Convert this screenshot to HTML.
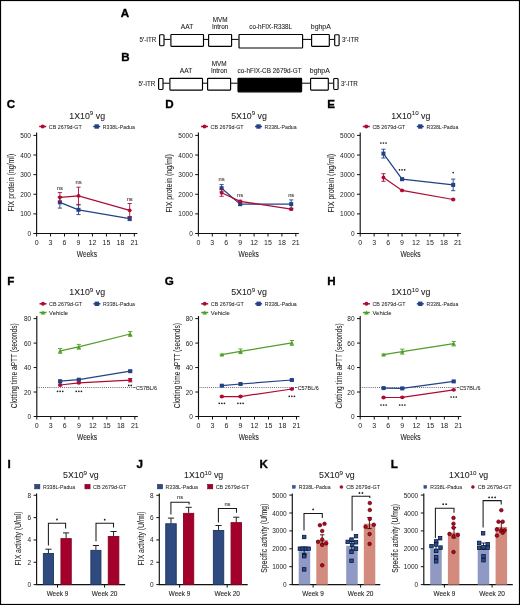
<!DOCTYPE html>
<html><head><meta charset="utf-8"><title>Figure</title>
<style>html,body{margin:0;padding:0;background:#fff;}svg{display:block;will-change:transform;}</style>
</head><body>
<svg width="520" height="605" viewBox="0 0 520 605" font-family='"Liberation Sans", sans-serif'>
<rect x="0" y="0" width="520" height="605" fill="#fff"/>
<text x="120.70" y="16.60" font-size="11.6" font-weight="bold" fill="#000" stroke="#000" stroke-width="0.35">A</text>
<line x1="164.20" y1="39.40" x2="170.40" y2="39.40" stroke="#000" stroke-width="1.0" />
<line x1="203.80" y1="39.40" x2="208.30" y2="39.40" stroke="#000" stroke-width="1.0" />
<line x1="231.80" y1="39.40" x2="238.50" y2="39.40" stroke="#000" stroke-width="1.0" />
<line x1="302.80" y1="39.40" x2="311.20" y2="39.40" stroke="#000" stroke-width="1.0" />
<line x1="329.60" y1="39.40" x2="334.20" y2="39.40" stroke="#000" stroke-width="1.0" />
<rect x="159.60" y="34.70" width="4.40" height="11.00" fill="#fff" stroke="#000" stroke-width="1.15" rx="0.9"/>
<rect x="170.90" y="34.50" width="32.60" height="11.80" fill="#fff" stroke="#000" stroke-width="1.15" rx="0.5"/>
<rect x="208.60" y="34.50" width="23.00" height="11.80" fill="#fff" stroke="#000" stroke-width="1.15" rx="0.5"/>
<rect x="239.00" y="34.50" width="63.60" height="13.50" fill="#fff" stroke="#000" stroke-width="1.15" rx="0.5"/>
<rect x="311.60" y="34.50" width="17.70" height="11.80" fill="#fff" stroke="#000" stroke-width="1.15" rx="0.5"/>
<rect x="334.70" y="34.70" width="4.40" height="11.00" fill="#fff" stroke="#000" stroke-width="1.15" rx="0.9"/>
<text x="156.30" y="42.10" font-size="6.6" text-anchor="end" fill="#222" font-weight="normal" textLength="16.8" lengthAdjust="spacingAndGlyphs" stroke="#222" stroke-width="0.08" >5′-ITR</text>
<text x="342.00" y="42.10" font-size="6.6" text-anchor="start" fill="#222" font-weight="normal" textLength="16.8" lengthAdjust="spacingAndGlyphs" stroke="#222" stroke-width="0.08" >3′-ITR</text>
<text x="187.00" y="29.40" font-size="6.6" text-anchor="middle" fill="#222" font-weight="normal" stroke="#222" stroke-width="0.08" >AAT</text>
<text x="220.10" y="21.70" font-size="6.4" text-anchor="middle" fill="#222" font-weight="normal" stroke="#222" stroke-width="0.08" >MVM</text>
<text x="220.10" y="29.10" font-size="6.4" text-anchor="middle" fill="#222" font-weight="normal" stroke="#222" stroke-width="0.08" >Intron</text>
<text x="270.60" y="29.40" font-size="6.6" text-anchor="middle" fill="#222" font-weight="normal" textLength="42.7" lengthAdjust="spacingAndGlyphs" stroke="#222" stroke-width="0.08" >co-hFIX-R338L</text>
<text x="320.80" y="29.40" font-size="6.6" text-anchor="middle" fill="#222" font-weight="normal" textLength="20.0" lengthAdjust="spacingAndGlyphs" stroke="#222" stroke-width="0.08" >bghpA</text>
<text x="121.30" y="60.60" font-size="11.6" font-weight="bold" fill="#000" stroke="#000" stroke-width="0.35">B</text>
<line x1="163.20" y1="83.20" x2="169.40" y2="83.20" stroke="#000" stroke-width="1.0" />
<line x1="202.80" y1="83.20" x2="207.30" y2="83.20" stroke="#000" stroke-width="1.0" />
<line x1="230.80" y1="83.20" x2="237.50" y2="83.20" stroke="#000" stroke-width="1.0" />
<line x1="301.80" y1="83.20" x2="310.20" y2="83.20" stroke="#000" stroke-width="1.0" />
<line x1="328.60" y1="83.20" x2="333.20" y2="83.20" stroke="#000" stroke-width="1.0" />
<rect x="158.60" y="78.50" width="4.40" height="11.00" fill="#fff" stroke="#000" stroke-width="1.15" rx="0.9"/>
<rect x="169.90" y="78.30" width="32.60" height="11.80" fill="#fff" stroke="#000" stroke-width="1.15" rx="0.5"/>
<rect x="207.60" y="78.30" width="23.00" height="11.80" fill="#fff" stroke="#000" stroke-width="1.15" rx="0.5"/>
<rect x="238.00" y="78.30" width="63.60" height="13.50" fill="#000" stroke="#000" stroke-width="1.15" rx="0.5"/>
<rect x="310.60" y="78.30" width="17.70" height="11.80" fill="#fff" stroke="#000" stroke-width="1.15" rx="0.5"/>
<rect x="333.70" y="78.50" width="4.40" height="11.00" fill="#fff" stroke="#000" stroke-width="1.15" rx="0.9"/>
<text x="155.30" y="85.90" font-size="6.6" text-anchor="end" fill="#222" font-weight="normal" textLength="16.8" lengthAdjust="spacingAndGlyphs" stroke="#222" stroke-width="0.08" >5′-ITR</text>
<text x="341.00" y="85.90" font-size="6.6" text-anchor="start" fill="#222" font-weight="normal" textLength="16.8" lengthAdjust="spacingAndGlyphs" stroke="#222" stroke-width="0.08" >3′-ITR</text>
<text x="186.00" y="73.20" font-size="6.6" text-anchor="middle" fill="#222" font-weight="normal" stroke="#222" stroke-width="0.08" >AAT</text>
<text x="219.10" y="65.50" font-size="6.4" text-anchor="middle" fill="#222" font-weight="normal" stroke="#222" stroke-width="0.08" >MVM</text>
<text x="219.10" y="72.90" font-size="6.4" text-anchor="middle" fill="#222" font-weight="normal" stroke="#222" stroke-width="0.08" >Intron</text>
<text x="269.60" y="73.20" font-size="6.6" text-anchor="middle" fill="#222" font-weight="normal" textLength="64.0" lengthAdjust="spacingAndGlyphs" stroke="#222" stroke-width="0.08" >co-hFIX-CB 2679d-GT</text>
<text x="319.80" y="73.20" font-size="6.6" text-anchor="middle" fill="#222" font-weight="normal" textLength="20.0" lengthAdjust="spacingAndGlyphs" stroke="#222" stroke-width="0.08" >bghpA</text>
<text x="6.70" y="107.80" font-size="11.6" font-weight="bold" fill="#000" stroke="#000" stroke-width="0.35">C</text>
<text x="165.30" y="107.80" font-size="11.6" font-weight="bold" fill="#000" stroke="#000" stroke-width="0.35">D</text>
<text x="327.30" y="107.80" font-size="11.6" font-weight="bold" fill="#000" stroke="#000" stroke-width="0.35">E</text>
<line x1="36.60" y1="132.50" x2="36.60" y2="234.00" stroke="#111" stroke-width="1.15" />
<line x1="36.10" y1="233.50" x2="137.36" y2="233.50" stroke="#111" stroke-width="1.15" />
<line x1="33.40" y1="233.50" x2="36.60" y2="233.50" stroke="#111" stroke-width="1.0" />
<text x="31.00" y="236.00" font-size="7.0" text-anchor="end" fill="#1a1a1a" font-weight="normal" textLength="3.62" lengthAdjust="spacingAndGlyphs" >0</text>
<line x1="33.40" y1="213.88" x2="36.60" y2="213.88" stroke="#111" stroke-width="1.0" />
<text x="31.00" y="216.38" font-size="7.0" text-anchor="end" fill="#1a1a1a" font-weight="normal" textLength="10.86" lengthAdjust="spacingAndGlyphs" >100</text>
<line x1="33.40" y1="194.26" x2="36.60" y2="194.26" stroke="#111" stroke-width="1.0" />
<text x="31.00" y="196.76" font-size="7.0" text-anchor="end" fill="#1a1a1a" font-weight="normal" textLength="10.86" lengthAdjust="spacingAndGlyphs" >200</text>
<line x1="33.40" y1="174.64" x2="36.60" y2="174.64" stroke="#111" stroke-width="1.0" />
<text x="31.00" y="177.14" font-size="7.0" text-anchor="end" fill="#1a1a1a" font-weight="normal" textLength="10.86" lengthAdjust="spacingAndGlyphs" >300</text>
<line x1="33.40" y1="155.02" x2="36.60" y2="155.02" stroke="#111" stroke-width="1.0" />
<text x="31.00" y="157.52" font-size="7.0" text-anchor="end" fill="#1a1a1a" font-weight="normal" textLength="10.86" lengthAdjust="spacingAndGlyphs" >400</text>
<line x1="33.40" y1="135.40" x2="36.60" y2="135.40" stroke="#111" stroke-width="1.0" />
<text x="31.00" y="137.90" font-size="7.0" text-anchor="end" fill="#1a1a1a" font-weight="normal" textLength="10.86" lengthAdjust="spacingAndGlyphs" >500</text>
<line x1="36.60" y1="233.50" x2="36.60" y2="236.50" stroke="#111" stroke-width="1.0" />
<text x="36.60" y="245.40" font-size="7.0" text-anchor="middle" fill="#1a1a1a" font-weight="normal" >0</text>
<line x1="50.56" y1="233.50" x2="50.56" y2="236.50" stroke="#111" stroke-width="1.0" />
<text x="50.56" y="245.40" font-size="7.0" text-anchor="middle" fill="#1a1a1a" font-weight="normal" >3</text>
<line x1="64.53" y1="233.50" x2="64.53" y2="236.50" stroke="#111" stroke-width="1.0" />
<text x="64.53" y="245.40" font-size="7.0" text-anchor="middle" fill="#1a1a1a" font-weight="normal" >6</text>
<line x1="78.50" y1="233.50" x2="78.50" y2="236.50" stroke="#111" stroke-width="1.0" />
<text x="78.50" y="245.40" font-size="7.0" text-anchor="middle" fill="#1a1a1a" font-weight="normal" >9</text>
<line x1="92.46" y1="233.50" x2="92.46" y2="236.50" stroke="#111" stroke-width="1.0" />
<text x="92.46" y="245.40" font-size="7.0" text-anchor="middle" fill="#1a1a1a" font-weight="normal" >12</text>
<line x1="106.43" y1="233.50" x2="106.43" y2="236.50" stroke="#111" stroke-width="1.0" />
<text x="106.43" y="245.40" font-size="7.0" text-anchor="middle" fill="#1a1a1a" font-weight="normal" >15</text>
<line x1="120.39" y1="233.50" x2="120.39" y2="236.50" stroke="#111" stroke-width="1.0" />
<text x="120.39" y="245.40" font-size="7.0" text-anchor="middle" fill="#1a1a1a" font-weight="normal" >18</text>
<line x1="134.36" y1="233.50" x2="134.36" y2="236.50" stroke="#111" stroke-width="1.0" />
<text x="134.36" y="245.40" font-size="7.0" text-anchor="middle" fill="#1a1a1a" font-weight="normal" >21</text>
<text x="86.90" y="257.10" font-size="8.7" text-anchor="middle" fill="#222" font-weight="normal" textLength="20.2" lengthAdjust="spacingAndGlyphs" stroke="#222" stroke-width="0.08" >Weeks</text>
<line x1="39.20" y1="126.50" x2="46.20" y2="126.50" stroke="#AC0C33" stroke-width="1.5" />
<circle cx="42.70" cy="126.50" r="1.95" fill="#AC0C33"/>
<text x="48.80" y="128.55" font-size="5.9" text-anchor="start" fill="#222" font-weight="normal" textLength="33.0" lengthAdjust="spacingAndGlyphs" stroke="#222" stroke-width="0.04" >CB 2679d-GT</text>
<line x1="93.20" y1="126.50" x2="100.20" y2="126.50" stroke="#224287" stroke-width="1.5" />
<rect x="94.50" y="124.30" width="4.40" height="4.40" fill="#224287" stroke="none" stroke-width="0" />
<text x="102.80" y="128.55" font-size="5.9" text-anchor="start" fill="#222" font-weight="normal" textLength="32.0" lengthAdjust="spacingAndGlyphs" stroke="#222" stroke-width="0.04" >R338L-Padua</text>
<line x1="198.40" y1="132.50" x2="198.40" y2="234.00" stroke="#111" stroke-width="1.15" />
<line x1="197.90" y1="233.50" x2="298.84" y2="233.50" stroke="#111" stroke-width="1.15" />
<line x1="195.20" y1="233.50" x2="198.40" y2="233.50" stroke="#111" stroke-width="1.0" />
<text x="192.80" y="236.00" font-size="7.0" text-anchor="end" fill="#1a1a1a" font-weight="normal" textLength="3.62" lengthAdjust="spacingAndGlyphs" >0</text>
<line x1="195.20" y1="213.88" x2="198.40" y2="213.88" stroke="#111" stroke-width="1.0" />
<text x="192.80" y="216.38" font-size="7.0" text-anchor="end" fill="#1a1a1a" font-weight="normal" textLength="14.48" lengthAdjust="spacingAndGlyphs" >1000</text>
<line x1="195.20" y1="194.26" x2="198.40" y2="194.26" stroke="#111" stroke-width="1.0" />
<text x="192.80" y="196.76" font-size="7.0" text-anchor="end" fill="#1a1a1a" font-weight="normal" textLength="14.48" lengthAdjust="spacingAndGlyphs" >2000</text>
<line x1="195.20" y1="174.64" x2="198.40" y2="174.64" stroke="#111" stroke-width="1.0" />
<text x="192.80" y="177.14" font-size="7.0" text-anchor="end" fill="#1a1a1a" font-weight="normal" textLength="14.48" lengthAdjust="spacingAndGlyphs" >3000</text>
<line x1="195.20" y1="155.02" x2="198.40" y2="155.02" stroke="#111" stroke-width="1.0" />
<text x="192.80" y="157.52" font-size="7.0" text-anchor="end" fill="#1a1a1a" font-weight="normal" textLength="14.48" lengthAdjust="spacingAndGlyphs" >4000</text>
<line x1="195.20" y1="135.40" x2="198.40" y2="135.40" stroke="#111" stroke-width="1.0" />
<text x="192.80" y="137.90" font-size="7.0" text-anchor="end" fill="#1a1a1a" font-weight="normal" textLength="14.48" lengthAdjust="spacingAndGlyphs" >5000</text>
<line x1="198.40" y1="233.50" x2="198.40" y2="236.50" stroke="#111" stroke-width="1.0" />
<text x="198.40" y="245.40" font-size="7.0" text-anchor="middle" fill="#1a1a1a" font-weight="normal" >0</text>
<line x1="212.32" y1="233.50" x2="212.32" y2="236.50" stroke="#111" stroke-width="1.0" />
<text x="212.32" y="245.40" font-size="7.0" text-anchor="middle" fill="#1a1a1a" font-weight="normal" >3</text>
<line x1="226.24" y1="233.50" x2="226.24" y2="236.50" stroke="#111" stroke-width="1.0" />
<text x="226.24" y="245.40" font-size="7.0" text-anchor="middle" fill="#1a1a1a" font-weight="normal" >6</text>
<line x1="240.16" y1="233.50" x2="240.16" y2="236.50" stroke="#111" stroke-width="1.0" />
<text x="240.16" y="245.40" font-size="7.0" text-anchor="middle" fill="#1a1a1a" font-weight="normal" >9</text>
<line x1="254.08" y1="233.50" x2="254.08" y2="236.50" stroke="#111" stroke-width="1.0" />
<text x="254.08" y="245.40" font-size="7.0" text-anchor="middle" fill="#1a1a1a" font-weight="normal" >12</text>
<line x1="268.00" y1="233.50" x2="268.00" y2="236.50" stroke="#111" stroke-width="1.0" />
<text x="268.00" y="245.40" font-size="7.0" text-anchor="middle" fill="#1a1a1a" font-weight="normal" >15</text>
<line x1="281.92" y1="233.50" x2="281.92" y2="236.50" stroke="#111" stroke-width="1.0" />
<text x="281.92" y="245.40" font-size="7.0" text-anchor="middle" fill="#1a1a1a" font-weight="normal" >18</text>
<line x1="295.84" y1="233.50" x2="295.84" y2="236.50" stroke="#111" stroke-width="1.0" />
<text x="295.84" y="245.40" font-size="7.0" text-anchor="middle" fill="#1a1a1a" font-weight="normal" >21</text>
<text x="248.70" y="257.10" font-size="8.7" text-anchor="middle" fill="#222" font-weight="normal" textLength="20.2" lengthAdjust="spacingAndGlyphs" stroke="#222" stroke-width="0.08" >Weeks</text>
<line x1="201.00" y1="126.50" x2="208.00" y2="126.50" stroke="#AC0C33" stroke-width="1.5" />
<circle cx="204.50" cy="126.50" r="1.95" fill="#AC0C33"/>
<text x="210.60" y="128.55" font-size="5.9" text-anchor="start" fill="#222" font-weight="normal" textLength="33.0" lengthAdjust="spacingAndGlyphs" stroke="#222" stroke-width="0.04" >CB 2679d-GT</text>
<line x1="255.00" y1="126.50" x2="262.00" y2="126.50" stroke="#224287" stroke-width="1.5" />
<rect x="256.30" y="124.30" width="4.40" height="4.40" fill="#224287" stroke="none" stroke-width="0" />
<text x="264.60" y="128.55" font-size="5.9" text-anchor="start" fill="#222" font-weight="normal" textLength="32.0" lengthAdjust="spacingAndGlyphs" stroke="#222" stroke-width="0.04" >R338L-Padua</text>
<line x1="360.20" y1="132.50" x2="360.20" y2="234.00" stroke="#111" stroke-width="1.15" />
<line x1="359.70" y1="233.50" x2="460.85" y2="233.50" stroke="#111" stroke-width="1.15" />
<line x1="357.00" y1="233.50" x2="360.20" y2="233.50" stroke="#111" stroke-width="1.0" />
<text x="354.60" y="236.00" font-size="7.0" text-anchor="end" fill="#1a1a1a" font-weight="normal" textLength="3.62" lengthAdjust="spacingAndGlyphs" >0</text>
<line x1="357.00" y1="213.88" x2="360.20" y2="213.88" stroke="#111" stroke-width="1.0" />
<text x="354.60" y="216.38" font-size="7.0" text-anchor="end" fill="#1a1a1a" font-weight="normal" textLength="14.48" lengthAdjust="spacingAndGlyphs" >1000</text>
<line x1="357.00" y1="194.26" x2="360.20" y2="194.26" stroke="#111" stroke-width="1.0" />
<text x="354.60" y="196.76" font-size="7.0" text-anchor="end" fill="#1a1a1a" font-weight="normal" textLength="14.48" lengthAdjust="spacingAndGlyphs" >2000</text>
<line x1="357.00" y1="174.64" x2="360.20" y2="174.64" stroke="#111" stroke-width="1.0" />
<text x="354.60" y="177.14" font-size="7.0" text-anchor="end" fill="#1a1a1a" font-weight="normal" textLength="14.48" lengthAdjust="spacingAndGlyphs" >3000</text>
<line x1="357.00" y1="155.02" x2="360.20" y2="155.02" stroke="#111" stroke-width="1.0" />
<text x="354.60" y="157.52" font-size="7.0" text-anchor="end" fill="#1a1a1a" font-weight="normal" textLength="14.48" lengthAdjust="spacingAndGlyphs" >4000</text>
<line x1="357.00" y1="135.40" x2="360.20" y2="135.40" stroke="#111" stroke-width="1.0" />
<text x="354.60" y="137.90" font-size="7.0" text-anchor="end" fill="#1a1a1a" font-weight="normal" textLength="14.48" lengthAdjust="spacingAndGlyphs" >5000</text>
<line x1="360.20" y1="233.50" x2="360.20" y2="236.50" stroke="#111" stroke-width="1.0" />
<text x="360.20" y="245.40" font-size="7.0" text-anchor="middle" fill="#1a1a1a" font-weight="normal" >0</text>
<line x1="374.15" y1="233.50" x2="374.15" y2="236.50" stroke="#111" stroke-width="1.0" />
<text x="374.15" y="245.40" font-size="7.0" text-anchor="middle" fill="#1a1a1a" font-weight="normal" >3</text>
<line x1="388.10" y1="233.50" x2="388.10" y2="236.50" stroke="#111" stroke-width="1.0" />
<text x="388.10" y="245.40" font-size="7.0" text-anchor="middle" fill="#1a1a1a" font-weight="normal" >6</text>
<line x1="402.05" y1="233.50" x2="402.05" y2="236.50" stroke="#111" stroke-width="1.0" />
<text x="402.05" y="245.40" font-size="7.0" text-anchor="middle" fill="#1a1a1a" font-weight="normal" >9</text>
<line x1="416.00" y1="233.50" x2="416.00" y2="236.50" stroke="#111" stroke-width="1.0" />
<text x="416.00" y="245.40" font-size="7.0" text-anchor="middle" fill="#1a1a1a" font-weight="normal" >12</text>
<line x1="429.95" y1="233.50" x2="429.95" y2="236.50" stroke="#111" stroke-width="1.0" />
<text x="429.95" y="245.40" font-size="7.0" text-anchor="middle" fill="#1a1a1a" font-weight="normal" >15</text>
<line x1="443.90" y1="233.50" x2="443.90" y2="236.50" stroke="#111" stroke-width="1.0" />
<text x="443.90" y="245.40" font-size="7.0" text-anchor="middle" fill="#1a1a1a" font-weight="normal" >18</text>
<line x1="457.85" y1="233.50" x2="457.85" y2="236.50" stroke="#111" stroke-width="1.0" />
<text x="457.85" y="245.40" font-size="7.0" text-anchor="middle" fill="#1a1a1a" font-weight="normal" >21</text>
<text x="410.50" y="257.10" font-size="8.7" text-anchor="middle" fill="#222" font-weight="normal" textLength="20.2" lengthAdjust="spacingAndGlyphs" stroke="#222" stroke-width="0.08" >Weeks</text>
<line x1="362.80" y1="126.50" x2="369.80" y2="126.50" stroke="#AC0C33" stroke-width="1.5" />
<circle cx="366.30" cy="126.50" r="1.95" fill="#AC0C33"/>
<text x="372.40" y="128.55" font-size="5.9" text-anchor="start" fill="#222" font-weight="normal" textLength="33.0" lengthAdjust="spacingAndGlyphs" stroke="#222" stroke-width="0.04" >CB 2679d-GT</text>
<line x1="416.80" y1="126.50" x2="423.80" y2="126.50" stroke="#224287" stroke-width="1.5" />
<rect x="418.10" y="124.30" width="4.40" height="4.40" fill="#224287" stroke="none" stroke-width="0" />
<text x="426.40" y="128.55" font-size="5.9" text-anchor="start" fill="#222" font-weight="normal" textLength="32.0" lengthAdjust="spacingAndGlyphs" stroke="#222" stroke-width="0.04" >R338L-Padua</text>
<text transform="translate(14.20,182.70) rotate(-90)" x="0" y="0" font-size="8.2" text-anchor="middle" fill="#222" stroke="#222" stroke-width="0.06" textLength="57.8" lengthAdjust="spacingAndGlyphs">FIX protein (ng/ml)</text>
<text transform="translate(172.40,183.35) rotate(-90)" x="0" y="0" font-size="8.2" text-anchor="middle" fill="#222" stroke="#222" stroke-width="0.06" textLength="58.5" lengthAdjust="spacingAndGlyphs">FIX protein (ng/ml)</text>
<text transform="translate(334.00,183.25) rotate(-90)" x="0" y="0" font-size="8.2" text-anchor="middle" fill="#222" stroke="#222" stroke-width="0.06" textLength="58.7" lengthAdjust="spacingAndGlyphs">FIX protein (ng/ml)</text>
<text x="87.20" y="118.70" font-size="8.8" text-anchor="middle" fill="#222" stroke="#222" stroke-width="0.07">1X10<tspan font-size="6.2" dy="-3.7">9</tspan><tspan dy="3.7"> vg</tspan></text>
<text x="249.00" y="118.70" font-size="8.8" text-anchor="middle" fill="#222" stroke="#222" stroke-width="0.07">5X10<tspan font-size="6.2" dy="-3.7">9</tspan><tspan dy="3.7"> vg</tspan></text>
<text x="410.80" y="118.70" font-size="8.8" text-anchor="middle" fill="#222" stroke="#222" stroke-width="0.07">1X10<tspan font-size="6.2" dy="-3.7">10</tspan><tspan dy="3.7"> vg</tspan></text>
<polyline points="59.88,202.30 78.50,209.80 129.70,218.60" fill="none" stroke="#224287" stroke-width="1.25"/>
<line x1="59.88" y1="196.50" x2="59.88" y2="208.10" stroke="#224287" stroke-width="0.9" />
<line x1="57.77" y1="196.50" x2="61.98" y2="196.50" stroke="#224287" stroke-width="0.9" />
<line x1="57.77" y1="208.10" x2="61.98" y2="208.10" stroke="#224287" stroke-width="0.9" />
<rect x="57.88" y="200.30" width="4.00" height="4.00" fill="#224287" stroke="none" stroke-width="0" />
<line x1="78.50" y1="205.00" x2="78.50" y2="214.60" stroke="#224287" stroke-width="0.9" />
<line x1="76.40" y1="205.00" x2="80.59" y2="205.00" stroke="#224287" stroke-width="0.9" />
<line x1="76.40" y1="214.60" x2="80.59" y2="214.60" stroke="#224287" stroke-width="0.9" />
<rect x="76.50" y="207.80" width="4.00" height="4.00" fill="#224287" stroke="none" stroke-width="0" />
<line x1="129.70" y1="216.60" x2="129.70" y2="220.60" stroke="#224287" stroke-width="0.9" />
<line x1="127.60" y1="216.60" x2="131.80" y2="216.60" stroke="#224287" stroke-width="0.9" />
<line x1="127.60" y1="220.60" x2="131.80" y2="220.60" stroke="#224287" stroke-width="0.9" />
<rect x="127.70" y="216.60" width="4.00" height="4.00" fill="#224287" stroke="none" stroke-width="0" />
<polyline points="59.88,197.30 78.50,195.80 129.70,210.30" fill="none" stroke="#AC0C33" stroke-width="1.25"/>
<line x1="59.88" y1="192.60" x2="59.88" y2="202.00" stroke="#AC0C33" stroke-width="0.9" />
<line x1="57.77" y1="192.60" x2="61.98" y2="192.60" stroke="#AC0C33" stroke-width="0.9" />
<line x1="57.77" y1="202.00" x2="61.98" y2="202.00" stroke="#AC0C33" stroke-width="0.9" />
<circle cx="59.88" cy="197.30" r="1.9" fill="#AC0C33"/>
<line x1="78.50" y1="187.20" x2="78.50" y2="204.40" stroke="#AC0C33" stroke-width="0.9" />
<line x1="76.40" y1="187.20" x2="80.59" y2="187.20" stroke="#AC0C33" stroke-width="0.9" />
<line x1="76.40" y1="204.40" x2="80.59" y2="204.40" stroke="#AC0C33" stroke-width="0.9" />
<circle cx="78.50" cy="195.80" r="1.9" fill="#AC0C33"/>
<line x1="129.70" y1="203.50" x2="129.70" y2="217.10" stroke="#AC0C33" stroke-width="0.9" />
<line x1="127.60" y1="203.50" x2="131.80" y2="203.50" stroke="#AC0C33" stroke-width="0.9" />
<line x1="127.60" y1="217.10" x2="131.80" y2="217.10" stroke="#AC0C33" stroke-width="0.9" />
<circle cx="129.70" cy="210.30" r="1.9" fill="#AC0C33"/>
<text x="59.88" y="189.80" font-size="5.8" text-anchor="middle" fill="#333" font-weight="normal" stroke="#333" stroke-width="0.08" >ns</text>
<text x="78.50" y="184.40" font-size="5.8" text-anchor="middle" fill="#333" font-weight="normal" stroke="#333" stroke-width="0.08" >ns</text>
<text x="129.70" y="201.10" font-size="5.8" text-anchor="middle" fill="#333" font-weight="normal" stroke="#333" stroke-width="0.08" >ns</text>
<polyline points="221.60,188.20 240.16,204.20 291.20,204.10" fill="none" stroke="#224287" stroke-width="1.25"/>
<line x1="221.60" y1="184.60" x2="221.60" y2="191.80" stroke="#224287" stroke-width="0.9" />
<line x1="219.50" y1="184.60" x2="223.70" y2="184.60" stroke="#224287" stroke-width="0.9" />
<line x1="219.50" y1="191.80" x2="223.70" y2="191.80" stroke="#224287" stroke-width="0.9" />
<rect x="219.60" y="186.20" width="4.00" height="4.00" fill="#224287" stroke="none" stroke-width="0" />
<line x1="240.16" y1="203.00" x2="240.16" y2="205.40" stroke="#224287" stroke-width="0.9" />
<line x1="238.06" y1="203.00" x2="242.26" y2="203.00" stroke="#224287" stroke-width="0.9" />
<line x1="238.06" y1="205.40" x2="242.26" y2="205.40" stroke="#224287" stroke-width="0.9" />
<rect x="238.16" y="202.20" width="4.00" height="4.00" fill="#224287" stroke="none" stroke-width="0" />
<line x1="291.20" y1="199.90" x2="291.20" y2="208.30" stroke="#224287" stroke-width="0.9" />
<line x1="289.10" y1="199.90" x2="293.30" y2="199.90" stroke="#224287" stroke-width="0.9" />
<line x1="289.10" y1="208.30" x2="293.30" y2="208.30" stroke="#224287" stroke-width="0.9" />
<rect x="289.20" y="202.10" width="4.00" height="4.00" fill="#224287" stroke="none" stroke-width="0" />
<polyline points="221.60,192.80 240.16,201.30 291.20,209.20" fill="none" stroke="#AC0C33" stroke-width="1.25"/>
<line x1="221.60" y1="189.30" x2="221.60" y2="196.30" stroke="#AC0C33" stroke-width="0.9" />
<line x1="219.50" y1="189.30" x2="223.70" y2="189.30" stroke="#AC0C33" stroke-width="0.9" />
<line x1="219.50" y1="196.30" x2="223.70" y2="196.30" stroke="#AC0C33" stroke-width="0.9" />
<circle cx="221.60" cy="192.80" r="1.9" fill="#AC0C33"/>
<line x1="240.16" y1="200.30" x2="240.16" y2="202.30" stroke="#AC0C33" stroke-width="0.9" />
<line x1="238.06" y1="200.30" x2="242.26" y2="200.30" stroke="#AC0C33" stroke-width="0.9" />
<line x1="238.06" y1="202.30" x2="242.26" y2="202.30" stroke="#AC0C33" stroke-width="0.9" />
<circle cx="240.16" cy="201.30" r="1.9" fill="#AC0C33"/>
<line x1="291.20" y1="208.40" x2="291.20" y2="210.00" stroke="#AC0C33" stroke-width="0.9" />
<line x1="289.10" y1="208.40" x2="293.30" y2="208.40" stroke="#AC0C33" stroke-width="0.9" />
<line x1="289.10" y1="210.00" x2="293.30" y2="210.00" stroke="#AC0C33" stroke-width="0.9" />
<circle cx="291.20" cy="209.20" r="1.9" fill="#AC0C33"/>
<text x="221.60" y="181.30" font-size="5.8" text-anchor="middle" fill="#333" font-weight="normal" stroke="#333" stroke-width="0.08" >ns</text>
<text x="240.16" y="196.70" font-size="5.8" text-anchor="middle" fill="#333" font-weight="normal" stroke="#333" stroke-width="0.08" >ns</text>
<text x="291.20" y="197.00" font-size="5.8" text-anchor="middle" fill="#333" font-weight="normal" stroke="#333" stroke-width="0.08" >ns</text>
<polyline points="383.45,177.50 402.05,190.40 453.20,199.50" fill="none" stroke="#AC0C33" stroke-width="1.25"/>
<line x1="383.45" y1="173.70" x2="383.45" y2="181.30" stroke="#AC0C33" stroke-width="0.9" />
<line x1="381.35" y1="173.70" x2="385.55" y2="173.70" stroke="#AC0C33" stroke-width="0.9" />
<line x1="381.35" y1="181.30" x2="385.55" y2="181.30" stroke="#AC0C33" stroke-width="0.9" />
<circle cx="383.45" cy="177.50" r="1.9" fill="#AC0C33"/>
<line x1="402.05" y1="189.90" x2="402.05" y2="190.90" stroke="#AC0C33" stroke-width="0.9" />
<line x1="399.95" y1="189.90" x2="404.15" y2="189.90" stroke="#AC0C33" stroke-width="0.9" />
<line x1="399.95" y1="190.90" x2="404.15" y2="190.90" stroke="#AC0C33" stroke-width="0.9" />
<circle cx="402.05" cy="190.40" r="1.9" fill="#AC0C33"/>
<line x1="453.20" y1="198.90" x2="453.20" y2="200.10" stroke="#AC0C33" stroke-width="0.9" />
<line x1="451.10" y1="198.90" x2="455.30" y2="198.90" stroke="#AC0C33" stroke-width="0.9" />
<line x1="451.10" y1="200.10" x2="455.30" y2="200.10" stroke="#AC0C33" stroke-width="0.9" />
<circle cx="453.20" cy="199.50" r="1.9" fill="#AC0C33"/>
<polyline points="383.45,153.60 402.05,179.20 453.20,184.90" fill="none" stroke="#224287" stroke-width="1.25"/>
<line x1="383.45" y1="149.20" x2="383.45" y2="158.00" stroke="#224287" stroke-width="0.9" />
<line x1="381.35" y1="149.20" x2="385.55" y2="149.20" stroke="#224287" stroke-width="0.9" />
<line x1="381.35" y1="158.00" x2="385.55" y2="158.00" stroke="#224287" stroke-width="0.9" />
<rect x="381.45" y="151.60" width="4.00" height="4.00" fill="#224287" stroke="none" stroke-width="0" />
<line x1="402.05" y1="178.20" x2="402.05" y2="180.20" stroke="#224287" stroke-width="0.9" />
<line x1="399.95" y1="178.20" x2="404.15" y2="178.20" stroke="#224287" stroke-width="0.9" />
<line x1="399.95" y1="180.20" x2="404.15" y2="180.20" stroke="#224287" stroke-width="0.9" />
<rect x="400.05" y="177.20" width="4.00" height="4.00" fill="#224287" stroke="none" stroke-width="0" />
<line x1="453.20" y1="179.10" x2="453.20" y2="190.70" stroke="#224287" stroke-width="0.9" />
<line x1="451.10" y1="179.10" x2="455.30" y2="179.10" stroke="#224287" stroke-width="0.9" />
<line x1="451.10" y1="190.70" x2="455.30" y2="190.70" stroke="#224287" stroke-width="0.9" />
<rect x="451.20" y="182.90" width="4.00" height="4.00" fill="#224287" stroke="none" stroke-width="0" />
<circle cx="380.85" cy="143.00" r="0.85" fill="#1e1e1e"/>
<circle cx="383.45" cy="143.00" r="0.85" fill="#1e1e1e"/>
<circle cx="386.05" cy="143.00" r="0.85" fill="#1e1e1e"/>
<circle cx="399.45" cy="169.80" r="0.85" fill="#1e1e1e"/>
<circle cx="402.05" cy="169.80" r="0.85" fill="#1e1e1e"/>
<circle cx="404.65" cy="169.80" r="0.85" fill="#1e1e1e"/>
<circle cx="453.20" cy="172.60" r="0.85" fill="#1e1e1e"/>
<text x="7.30" y="284.50" font-size="11.6" font-weight="bold" fill="#000" stroke="#000" stroke-width="0.35">F</text>
<text x="164.80" y="284.50" font-size="11.6" font-weight="bold" fill="#000" stroke="#000" stroke-width="0.35">G</text>
<text x="327.20" y="284.50" font-size="11.6" font-weight="bold" fill="#000" stroke="#000" stroke-width="0.35">H</text>
<line x1="36.80" y1="316.00" x2="36.80" y2="417.00" stroke="#111" stroke-width="1.15" />
<line x1="36.30" y1="416.50" x2="137.87" y2="416.50" stroke="#111" stroke-width="1.15" />
<line x1="33.60" y1="416.50" x2="36.80" y2="416.50" stroke="#111" stroke-width="1.0" />
<text x="31.20" y="419.00" font-size="7.0" text-anchor="end" fill="#1a1a1a" font-weight="normal" textLength="3.62" lengthAdjust="spacingAndGlyphs" >0</text>
<line x1="33.60" y1="392.03" x2="36.80" y2="392.03" stroke="#111" stroke-width="1.0" />
<text x="31.20" y="394.53" font-size="7.0" text-anchor="end" fill="#1a1a1a" font-weight="normal" textLength="7.24" lengthAdjust="spacingAndGlyphs" >20</text>
<line x1="33.60" y1="367.56" x2="36.80" y2="367.56" stroke="#111" stroke-width="1.0" />
<text x="31.20" y="370.06" font-size="7.0" text-anchor="end" fill="#1a1a1a" font-weight="normal" textLength="7.24" lengthAdjust="spacingAndGlyphs" >40</text>
<line x1="33.60" y1="343.09" x2="36.80" y2="343.09" stroke="#111" stroke-width="1.0" />
<text x="31.20" y="345.59" font-size="7.0" text-anchor="end" fill="#1a1a1a" font-weight="normal" textLength="7.24" lengthAdjust="spacingAndGlyphs" >60</text>
<line x1="33.60" y1="318.62" x2="36.80" y2="318.62" stroke="#111" stroke-width="1.0" />
<text x="31.20" y="321.12" font-size="7.0" text-anchor="end" fill="#1a1a1a" font-weight="normal" textLength="7.24" lengthAdjust="spacingAndGlyphs" >80</text>
<line x1="36.80" y1="416.50" x2="36.80" y2="419.50" stroke="#111" stroke-width="1.0" />
<text x="36.80" y="428.40" font-size="7.0" text-anchor="middle" fill="#1a1a1a" font-weight="normal" >0</text>
<line x1="50.81" y1="416.50" x2="50.81" y2="419.50" stroke="#111" stroke-width="1.0" />
<text x="50.81" y="428.40" font-size="7.0" text-anchor="middle" fill="#1a1a1a" font-weight="normal" >3</text>
<line x1="64.82" y1="416.50" x2="64.82" y2="419.50" stroke="#111" stroke-width="1.0" />
<text x="64.82" y="428.40" font-size="7.0" text-anchor="middle" fill="#1a1a1a" font-weight="normal" >6</text>
<line x1="78.83" y1="416.50" x2="78.83" y2="419.50" stroke="#111" stroke-width="1.0" />
<text x="78.83" y="428.40" font-size="7.0" text-anchor="middle" fill="#1a1a1a" font-weight="normal" >9</text>
<line x1="92.84" y1="416.50" x2="92.84" y2="419.50" stroke="#111" stroke-width="1.0" />
<text x="92.84" y="428.40" font-size="7.0" text-anchor="middle" fill="#1a1a1a" font-weight="normal" >12</text>
<line x1="106.85" y1="416.50" x2="106.85" y2="419.50" stroke="#111" stroke-width="1.0" />
<text x="106.85" y="428.40" font-size="7.0" text-anchor="middle" fill="#1a1a1a" font-weight="normal" >15</text>
<line x1="120.86" y1="416.50" x2="120.86" y2="419.50" stroke="#111" stroke-width="1.0" />
<text x="120.86" y="428.40" font-size="7.0" text-anchor="middle" fill="#1a1a1a" font-weight="normal" >18</text>
<line x1="134.87" y1="416.50" x2="134.87" y2="419.50" stroke="#111" stroke-width="1.0" />
<text x="134.87" y="428.40" font-size="7.0" text-anchor="middle" fill="#1a1a1a" font-weight="normal" >21</text>
<text x="87.10" y="440.10" font-size="8.7" text-anchor="middle" fill="#222" font-weight="normal" textLength="20.2" lengthAdjust="spacingAndGlyphs" stroke="#222" stroke-width="0.08" >Weeks</text>
<line x1="39.50" y1="303.80" x2="46.50" y2="303.80" stroke="#AC0C33" stroke-width="1.5" />
<circle cx="43.00" cy="303.80" r="1.95" fill="#AC0C33"/>
<text x="49.10" y="305.85" font-size="5.9" text-anchor="start" fill="#222" font-weight="normal" textLength="33.0" lengthAdjust="spacingAndGlyphs" stroke="#222" stroke-width="0.04" >CB 2679d-GT</text>
<line x1="93.40" y1="303.80" x2="100.40" y2="303.80" stroke="#224287" stroke-width="1.5" />
<rect x="94.70" y="301.60" width="4.40" height="4.40" fill="#224287" stroke="none" stroke-width="0" />
<text x="103.00" y="305.85" font-size="5.9" text-anchor="start" fill="#222" font-weight="normal" textLength="32.0" lengthAdjust="spacingAndGlyphs" stroke="#222" stroke-width="0.04" >R338L-Padua</text>
<line x1="39.50" y1="312.50" x2="46.50" y2="312.50" stroke="#519D25" stroke-width="1.5" />
<path d="M40.70,314.50 L45.30,314.50 L43.00,310.50 Z" fill="#519D25"/>
<text x="49.10" y="314.55" font-size="5.9" text-anchor="start" fill="#222" font-weight="normal" textLength="19.0" lengthAdjust="spacingAndGlyphs" stroke="#222" stroke-width="0.04" >Vehicle</text>
<line x1="36.80" y1="387.5" x2="135.40" y2="387.5" stroke="#333" stroke-width="0.8" stroke-dasharray="0.9,1.2"/>
<line x1="133.40" y1="387.50" x2="135.70" y2="387.50" stroke="#444" stroke-width="0.7" />
<text x="136.00" y="389.50" font-size="5.8" text-anchor="start" fill="#222" font-weight="normal" textLength="21.0" lengthAdjust="spacingAndGlyphs" stroke="#222" stroke-width="0.05" >C57BL/6</text>
<line x1="198.50" y1="316.00" x2="198.50" y2="417.00" stroke="#111" stroke-width="1.15" />
<line x1="198.00" y1="416.50" x2="299.51" y2="416.50" stroke="#111" stroke-width="1.15" />
<line x1="195.30" y1="416.50" x2="198.50" y2="416.50" stroke="#111" stroke-width="1.0" />
<text x="192.90" y="419.00" font-size="7.0" text-anchor="end" fill="#1a1a1a" font-weight="normal" textLength="3.62" lengthAdjust="spacingAndGlyphs" >0</text>
<line x1="195.30" y1="392.03" x2="198.50" y2="392.03" stroke="#111" stroke-width="1.0" />
<text x="192.90" y="394.53" font-size="7.0" text-anchor="end" fill="#1a1a1a" font-weight="normal" textLength="7.24" lengthAdjust="spacingAndGlyphs" >20</text>
<line x1="195.30" y1="367.56" x2="198.50" y2="367.56" stroke="#111" stroke-width="1.0" />
<text x="192.90" y="370.06" font-size="7.0" text-anchor="end" fill="#1a1a1a" font-weight="normal" textLength="7.24" lengthAdjust="spacingAndGlyphs" >40</text>
<line x1="195.30" y1="343.09" x2="198.50" y2="343.09" stroke="#111" stroke-width="1.0" />
<text x="192.90" y="345.59" font-size="7.0" text-anchor="end" fill="#1a1a1a" font-weight="normal" textLength="7.24" lengthAdjust="spacingAndGlyphs" >60</text>
<line x1="195.30" y1="318.62" x2="198.50" y2="318.62" stroke="#111" stroke-width="1.0" />
<text x="192.90" y="321.12" font-size="7.0" text-anchor="end" fill="#1a1a1a" font-weight="normal" textLength="7.24" lengthAdjust="spacingAndGlyphs" >80</text>
<line x1="198.50" y1="416.50" x2="198.50" y2="419.50" stroke="#111" stroke-width="1.0" />
<text x="198.50" y="428.40" font-size="7.0" text-anchor="middle" fill="#1a1a1a" font-weight="normal" >0</text>
<line x1="212.50" y1="416.50" x2="212.50" y2="419.50" stroke="#111" stroke-width="1.0" />
<text x="212.50" y="428.40" font-size="7.0" text-anchor="middle" fill="#1a1a1a" font-weight="normal" >3</text>
<line x1="226.50" y1="416.50" x2="226.50" y2="419.50" stroke="#111" stroke-width="1.0" />
<text x="226.50" y="428.40" font-size="7.0" text-anchor="middle" fill="#1a1a1a" font-weight="normal" >6</text>
<line x1="240.50" y1="416.50" x2="240.50" y2="419.50" stroke="#111" stroke-width="1.0" />
<text x="240.50" y="428.40" font-size="7.0" text-anchor="middle" fill="#1a1a1a" font-weight="normal" >9</text>
<line x1="254.50" y1="416.50" x2="254.50" y2="419.50" stroke="#111" stroke-width="1.0" />
<text x="254.50" y="428.40" font-size="7.0" text-anchor="middle" fill="#1a1a1a" font-weight="normal" >12</text>
<line x1="268.50" y1="416.50" x2="268.50" y2="419.50" stroke="#111" stroke-width="1.0" />
<text x="268.50" y="428.40" font-size="7.0" text-anchor="middle" fill="#1a1a1a" font-weight="normal" >15</text>
<line x1="282.51" y1="416.50" x2="282.51" y2="419.50" stroke="#111" stroke-width="1.0" />
<text x="282.51" y="428.40" font-size="7.0" text-anchor="middle" fill="#1a1a1a" font-weight="normal" >18</text>
<line x1="296.51" y1="416.50" x2="296.51" y2="419.50" stroke="#111" stroke-width="1.0" />
<text x="296.51" y="428.40" font-size="7.0" text-anchor="middle" fill="#1a1a1a" font-weight="normal" >21</text>
<text x="248.80" y="440.10" font-size="8.7" text-anchor="middle" fill="#222" font-weight="normal" textLength="20.2" lengthAdjust="spacingAndGlyphs" stroke="#222" stroke-width="0.08" >Weeks</text>
<line x1="201.20" y1="303.80" x2="208.20" y2="303.80" stroke="#AC0C33" stroke-width="1.5" />
<circle cx="204.70" cy="303.80" r="1.95" fill="#AC0C33"/>
<text x="210.80" y="305.85" font-size="5.9" text-anchor="start" fill="#222" font-weight="normal" textLength="33.0" lengthAdjust="spacingAndGlyphs" stroke="#222" stroke-width="0.04" >CB 2679d-GT</text>
<line x1="255.10" y1="303.80" x2="262.10" y2="303.80" stroke="#224287" stroke-width="1.5" />
<rect x="256.40" y="301.60" width="4.40" height="4.40" fill="#224287" stroke="none" stroke-width="0" />
<text x="264.70" y="305.85" font-size="5.9" text-anchor="start" fill="#222" font-weight="normal" textLength="32.0" lengthAdjust="spacingAndGlyphs" stroke="#222" stroke-width="0.04" >R338L-Padua</text>
<line x1="201.20" y1="312.50" x2="208.20" y2="312.50" stroke="#519D25" stroke-width="1.5" />
<path d="M202.40,314.50 L207.00,314.50 L204.70,310.50 Z" fill="#519D25"/>
<text x="210.80" y="314.55" font-size="5.9" text-anchor="start" fill="#222" font-weight="normal" textLength="19.0" lengthAdjust="spacingAndGlyphs" stroke="#222" stroke-width="0.04" >Vehicle</text>
<line x1="198.50" y1="387.5" x2="297.10" y2="387.5" stroke="#333" stroke-width="0.8" stroke-dasharray="0.9,1.2"/>
<line x1="295.10" y1="387.50" x2="297.40" y2="387.50" stroke="#444" stroke-width="0.7" />
<text x="297.70" y="389.50" font-size="5.8" text-anchor="start" fill="#222" font-weight="normal" textLength="21.0" lengthAdjust="spacingAndGlyphs" stroke="#222" stroke-width="0.05" >C57BL/6</text>
<line x1="360.20" y1="316.00" x2="360.20" y2="417.00" stroke="#111" stroke-width="1.15" />
<line x1="359.70" y1="416.50" x2="461.38" y2="416.50" stroke="#111" stroke-width="1.15" />
<line x1="357.00" y1="416.50" x2="360.20" y2="416.50" stroke="#111" stroke-width="1.0" />
<text x="354.60" y="419.00" font-size="7.0" text-anchor="end" fill="#1a1a1a" font-weight="normal" textLength="3.62" lengthAdjust="spacingAndGlyphs" >0</text>
<line x1="357.00" y1="392.03" x2="360.20" y2="392.03" stroke="#111" stroke-width="1.0" />
<text x="354.60" y="394.53" font-size="7.0" text-anchor="end" fill="#1a1a1a" font-weight="normal" textLength="7.24" lengthAdjust="spacingAndGlyphs" >20</text>
<line x1="357.00" y1="367.56" x2="360.20" y2="367.56" stroke="#111" stroke-width="1.0" />
<text x="354.60" y="370.06" font-size="7.0" text-anchor="end" fill="#1a1a1a" font-weight="normal" textLength="7.24" lengthAdjust="spacingAndGlyphs" >40</text>
<line x1="357.00" y1="343.09" x2="360.20" y2="343.09" stroke="#111" stroke-width="1.0" />
<text x="354.60" y="345.59" font-size="7.0" text-anchor="end" fill="#1a1a1a" font-weight="normal" textLength="7.24" lengthAdjust="spacingAndGlyphs" >60</text>
<line x1="357.00" y1="318.62" x2="360.20" y2="318.62" stroke="#111" stroke-width="1.0" />
<text x="354.60" y="321.12" font-size="7.0" text-anchor="end" fill="#1a1a1a" font-weight="normal" textLength="7.24" lengthAdjust="spacingAndGlyphs" >80</text>
<line x1="360.20" y1="416.50" x2="360.20" y2="419.50" stroke="#111" stroke-width="1.0" />
<text x="360.20" y="428.40" font-size="7.0" text-anchor="middle" fill="#1a1a1a" font-weight="normal" >0</text>
<line x1="374.22" y1="416.50" x2="374.22" y2="419.50" stroke="#111" stroke-width="1.0" />
<text x="374.22" y="428.40" font-size="7.0" text-anchor="middle" fill="#1a1a1a" font-weight="normal" >3</text>
<line x1="388.25" y1="416.50" x2="388.25" y2="419.50" stroke="#111" stroke-width="1.0" />
<text x="388.25" y="428.40" font-size="7.0" text-anchor="middle" fill="#1a1a1a" font-weight="normal" >6</text>
<line x1="402.27" y1="416.50" x2="402.27" y2="419.50" stroke="#111" stroke-width="1.0" />
<text x="402.27" y="428.40" font-size="7.0" text-anchor="middle" fill="#1a1a1a" font-weight="normal" >9</text>
<line x1="416.30" y1="416.50" x2="416.30" y2="419.50" stroke="#111" stroke-width="1.0" />
<text x="416.30" y="428.40" font-size="7.0" text-anchor="middle" fill="#1a1a1a" font-weight="normal" >12</text>
<line x1="430.32" y1="416.50" x2="430.32" y2="419.50" stroke="#111" stroke-width="1.0" />
<text x="430.32" y="428.40" font-size="7.0" text-anchor="middle" fill="#1a1a1a" font-weight="normal" >15</text>
<line x1="444.35" y1="416.50" x2="444.35" y2="419.50" stroke="#111" stroke-width="1.0" />
<text x="444.35" y="428.40" font-size="7.0" text-anchor="middle" fill="#1a1a1a" font-weight="normal" >18</text>
<line x1="458.38" y1="416.50" x2="458.38" y2="419.50" stroke="#111" stroke-width="1.0" />
<text x="458.38" y="428.40" font-size="7.0" text-anchor="middle" fill="#1a1a1a" font-weight="normal" >21</text>
<text x="410.50" y="440.10" font-size="8.7" text-anchor="middle" fill="#222" font-weight="normal" textLength="20.2" lengthAdjust="spacingAndGlyphs" stroke="#222" stroke-width="0.08" >Weeks</text>
<line x1="362.90" y1="303.80" x2="369.90" y2="303.80" stroke="#AC0C33" stroke-width="1.5" />
<circle cx="366.40" cy="303.80" r="1.95" fill="#AC0C33"/>
<text x="372.50" y="305.85" font-size="5.9" text-anchor="start" fill="#222" font-weight="normal" textLength="33.0" lengthAdjust="spacingAndGlyphs" stroke="#222" stroke-width="0.04" >CB 2679d-GT</text>
<line x1="416.80" y1="303.80" x2="423.80" y2="303.80" stroke="#224287" stroke-width="1.5" />
<rect x="418.10" y="301.60" width="4.40" height="4.40" fill="#224287" stroke="none" stroke-width="0" />
<text x="426.40" y="305.85" font-size="5.9" text-anchor="start" fill="#222" font-weight="normal" textLength="32.0" lengthAdjust="spacingAndGlyphs" stroke="#222" stroke-width="0.04" >R338L-Padua</text>
<line x1="362.90" y1="312.50" x2="369.90" y2="312.50" stroke="#519D25" stroke-width="1.5" />
<path d="M364.10,314.50 L368.70,314.50 L366.40,310.50 Z" fill="#519D25"/>
<text x="372.50" y="314.55" font-size="5.9" text-anchor="start" fill="#222" font-weight="normal" textLength="19.0" lengthAdjust="spacingAndGlyphs" stroke="#222" stroke-width="0.04" >Vehicle</text>
<line x1="360.20" y1="387.5" x2="458.80" y2="387.5" stroke="#333" stroke-width="0.8" stroke-dasharray="0.9,1.2"/>
<line x1="456.80" y1="387.50" x2="459.10" y2="387.50" stroke="#444" stroke-width="0.7" />
<text x="459.40" y="389.50" font-size="5.8" text-anchor="start" fill="#222" font-weight="normal" textLength="21.0" lengthAdjust="spacingAndGlyphs" stroke="#222" stroke-width="0.05" >C57BL/6</text>
<text transform="translate(17.40,365.85) rotate(-90)" x="0" y="0" font-size="8.2" text-anchor="middle" fill="#222" stroke="#222" stroke-width="0.06" textLength="84.9" lengthAdjust="spacingAndGlyphs">Clotting time aPTT (seconds)</text>
<text transform="translate(179.70,365.70) rotate(-90)" x="0" y="0" font-size="8.2" text-anchor="middle" fill="#222" stroke="#222" stroke-width="0.06" textLength="85.2" lengthAdjust="spacingAndGlyphs">Clotting time aPTT (seconds)</text>
<text transform="translate(342.00,365.95) rotate(-90)" x="0" y="0" font-size="8.2" text-anchor="middle" fill="#222" stroke="#222" stroke-width="0.06" textLength="85.3" lengthAdjust="spacingAndGlyphs">Clotting time aPTT (seconds)</text>
<text x="87.20" y="295.20" font-size="8.8" text-anchor="middle" fill="#222" stroke="#222" stroke-width="0.07">1X10<tspan font-size="6.2" dy="-3.7">9</tspan><tspan dy="3.7"> vg</tspan></text>
<text x="249.00" y="295.20" font-size="8.8" text-anchor="middle" fill="#222" stroke="#222" stroke-width="0.07">5X10<tspan font-size="6.2" dy="-3.7">9</tspan><tspan dy="3.7"> vg</tspan></text>
<text x="410.80" y="295.20" font-size="8.8" text-anchor="middle" fill="#222" stroke="#222" stroke-width="0.07">1X10<tspan font-size="6.2" dy="-3.7">10</tspan><tspan dy="3.7"> vg</tspan></text>
<polyline points="60.15,350.90 78.83,346.80 130.20,334.00" fill="none" stroke="#519D25" stroke-width="1.25"/>
<line x1="60.15" y1="348.50" x2="60.15" y2="353.30" stroke="#519D25" stroke-width="0.9" />
<line x1="58.05" y1="348.50" x2="62.25" y2="348.50" stroke="#519D25" stroke-width="0.9" />
<line x1="58.05" y1="353.30" x2="62.25" y2="353.30" stroke="#519D25" stroke-width="0.9" />
<path d="M57.95,352.81 L62.35,352.81 L60.15,348.99 Z" fill="#519D25"/>
<line x1="78.83" y1="344.40" x2="78.83" y2="349.20" stroke="#519D25" stroke-width="0.9" />
<line x1="76.73" y1="344.40" x2="80.93" y2="344.40" stroke="#519D25" stroke-width="0.9" />
<line x1="76.73" y1="349.20" x2="80.93" y2="349.20" stroke="#519D25" stroke-width="0.9" />
<path d="M76.63,348.71 L81.03,348.71 L78.83,344.89 Z" fill="#519D25"/>
<line x1="130.20" y1="331.60" x2="130.20" y2="336.40" stroke="#519D25" stroke-width="0.9" />
<line x1="128.10" y1="331.60" x2="132.30" y2="331.60" stroke="#519D25" stroke-width="0.9" />
<line x1="128.10" y1="336.40" x2="132.30" y2="336.40" stroke="#519D25" stroke-width="0.9" />
<path d="M128.00,335.91 L132.40,335.91 L130.20,332.09 Z" fill="#519D25"/>
<polyline points="60.15,381.20 78.83,379.70 130.20,371.20" fill="none" stroke="#224287" stroke-width="1.25"/>
<line x1="60.15" y1="380.40" x2="60.15" y2="382.00" stroke="#224287" stroke-width="0.9" />
<line x1="58.05" y1="380.40" x2="62.25" y2="380.40" stroke="#224287" stroke-width="0.9" />
<line x1="58.05" y1="382.00" x2="62.25" y2="382.00" stroke="#224287" stroke-width="0.9" />
<rect x="58.15" y="379.20" width="4.00" height="4.00" fill="#224287" stroke="none" stroke-width="0" />
<line x1="78.83" y1="378.90" x2="78.83" y2="380.50" stroke="#224287" stroke-width="0.9" />
<line x1="76.73" y1="378.90" x2="80.93" y2="378.90" stroke="#224287" stroke-width="0.9" />
<line x1="76.73" y1="380.50" x2="80.93" y2="380.50" stroke="#224287" stroke-width="0.9" />
<rect x="76.83" y="377.70" width="4.00" height="4.00" fill="#224287" stroke="none" stroke-width="0" />
<line x1="130.20" y1="370.40" x2="130.20" y2="372.00" stroke="#224287" stroke-width="0.9" />
<line x1="128.10" y1="370.40" x2="132.30" y2="370.40" stroke="#224287" stroke-width="0.9" />
<line x1="128.10" y1="372.00" x2="132.30" y2="372.00" stroke="#224287" stroke-width="0.9" />
<rect x="128.20" y="369.20" width="4.00" height="4.00" fill="#224287" stroke="none" stroke-width="0" />
<polyline points="60.15,385.00 78.83,382.80 130.20,380.20" fill="none" stroke="#AC0C33" stroke-width="1.25"/>
<line x1="60.15" y1="384.20" x2="60.15" y2="385.80" stroke="#AC0C33" stroke-width="0.9" />
<line x1="58.05" y1="384.20" x2="62.25" y2="384.20" stroke="#AC0C33" stroke-width="0.9" />
<line x1="58.05" y1="385.80" x2="62.25" y2="385.80" stroke="#AC0C33" stroke-width="0.9" />
<circle cx="60.15" cy="385.00" r="1.9" fill="#AC0C33"/>
<line x1="78.83" y1="382.00" x2="78.83" y2="383.60" stroke="#AC0C33" stroke-width="0.9" />
<line x1="76.73" y1="382.00" x2="80.93" y2="382.00" stroke="#AC0C33" stroke-width="0.9" />
<line x1="76.73" y1="383.60" x2="80.93" y2="383.60" stroke="#AC0C33" stroke-width="0.9" />
<circle cx="78.83" cy="382.80" r="1.9" fill="#AC0C33"/>
<line x1="130.20" y1="378.50" x2="130.20" y2="381.90" stroke="#AC0C33" stroke-width="0.9" />
<line x1="128.10" y1="378.50" x2="132.30" y2="378.50" stroke="#AC0C33" stroke-width="0.9" />
<line x1="128.10" y1="381.90" x2="132.30" y2="381.90" stroke="#AC0C33" stroke-width="0.9" />
<circle cx="130.20" cy="380.20" r="1.9" fill="#AC0C33"/>
<circle cx="57.55" cy="391.30" r="0.85" fill="#1e1e1e"/>
<circle cx="60.15" cy="391.30" r="0.85" fill="#1e1e1e"/>
<circle cx="62.75" cy="391.30" r="0.85" fill="#1e1e1e"/>
<circle cx="76.23" cy="391.30" r="0.85" fill="#1e1e1e"/>
<circle cx="78.83" cy="391.30" r="0.85" fill="#1e1e1e"/>
<circle cx="81.43" cy="391.30" r="0.85" fill="#1e1e1e"/>
<circle cx="128.80" cy="385.40" r="0.85" fill="#1e1e1e"/>
<circle cx="131.20" cy="385.40" r="0.85" fill="#1e1e1e"/>
<polyline points="221.84,354.70 240.50,351.30 291.84,342.90" fill="none" stroke="#519D25" stroke-width="1.25"/>
<line x1="221.84" y1="354.10" x2="221.84" y2="355.30" stroke="#519D25" stroke-width="0.9" />
<line x1="219.74" y1="354.10" x2="223.94" y2="354.10" stroke="#519D25" stroke-width="0.9" />
<line x1="219.74" y1="355.30" x2="223.94" y2="355.30" stroke="#519D25" stroke-width="0.9" />
<path d="M219.64,356.61 L224.03,356.61 L221.84,352.79 Z" fill="#519D25"/>
<line x1="240.50" y1="349.00" x2="240.50" y2="353.60" stroke="#519D25" stroke-width="0.9" />
<line x1="238.40" y1="349.00" x2="242.60" y2="349.00" stroke="#519D25" stroke-width="0.9" />
<line x1="238.40" y1="353.60" x2="242.60" y2="353.60" stroke="#519D25" stroke-width="0.9" />
<path d="M238.30,353.21 L242.70,353.21 L240.50,349.39 Z" fill="#519D25"/>
<line x1="291.84" y1="340.50" x2="291.84" y2="345.30" stroke="#519D25" stroke-width="0.9" />
<line x1="289.74" y1="340.50" x2="293.94" y2="340.50" stroke="#519D25" stroke-width="0.9" />
<line x1="289.74" y1="345.30" x2="293.94" y2="345.30" stroke="#519D25" stroke-width="0.9" />
<path d="M289.64,344.81 L294.04,344.81 L291.84,340.99 Z" fill="#519D25"/>
<polyline points="221.84,385.70 240.50,384.00 291.84,380.00" fill="none" stroke="#224287" stroke-width="1.25"/>
<line x1="221.84" y1="385.10" x2="221.84" y2="386.30" stroke="#224287" stroke-width="0.9" />
<line x1="219.74" y1="385.10" x2="223.94" y2="385.10" stroke="#224287" stroke-width="0.9" />
<line x1="219.74" y1="386.30" x2="223.94" y2="386.30" stroke="#224287" stroke-width="0.9" />
<rect x="219.84" y="383.70" width="4.00" height="4.00" fill="#224287" stroke="none" stroke-width="0" />
<line x1="240.50" y1="383.40" x2="240.50" y2="384.60" stroke="#224287" stroke-width="0.9" />
<line x1="238.40" y1="383.40" x2="242.60" y2="383.40" stroke="#224287" stroke-width="0.9" />
<line x1="238.40" y1="384.60" x2="242.60" y2="384.60" stroke="#224287" stroke-width="0.9" />
<rect x="238.50" y="382.00" width="4.00" height="4.00" fill="#224287" stroke="none" stroke-width="0" />
<line x1="291.84" y1="379.40" x2="291.84" y2="380.60" stroke="#224287" stroke-width="0.9" />
<line x1="289.74" y1="379.40" x2="293.94" y2="379.40" stroke="#224287" stroke-width="0.9" />
<line x1="289.74" y1="380.60" x2="293.94" y2="380.60" stroke="#224287" stroke-width="0.9" />
<rect x="289.84" y="378.00" width="4.00" height="4.00" fill="#224287" stroke="none" stroke-width="0" />
<polyline points="221.84,396.50 240.50,396.50 291.84,389.00" fill="none" stroke="#AC0C33" stroke-width="1.25"/>
<line x1="221.84" y1="396.00" x2="221.84" y2="397.00" stroke="#AC0C33" stroke-width="0.9" />
<line x1="219.74" y1="396.00" x2="223.94" y2="396.00" stroke="#AC0C33" stroke-width="0.9" />
<line x1="219.74" y1="397.00" x2="223.94" y2="397.00" stroke="#AC0C33" stroke-width="0.9" />
<circle cx="221.84" cy="396.50" r="1.9" fill="#AC0C33"/>
<line x1="240.50" y1="396.00" x2="240.50" y2="397.00" stroke="#AC0C33" stroke-width="0.9" />
<line x1="238.40" y1="396.00" x2="242.60" y2="396.00" stroke="#AC0C33" stroke-width="0.9" />
<line x1="238.40" y1="397.00" x2="242.60" y2="397.00" stroke="#AC0C33" stroke-width="0.9" />
<circle cx="240.50" cy="396.50" r="1.9" fill="#AC0C33"/>
<line x1="291.84" y1="388.50" x2="291.84" y2="389.50" stroke="#AC0C33" stroke-width="0.9" />
<line x1="289.74" y1="388.50" x2="293.94" y2="388.50" stroke="#AC0C33" stroke-width="0.9" />
<line x1="289.74" y1="389.50" x2="293.94" y2="389.50" stroke="#AC0C33" stroke-width="0.9" />
<circle cx="291.84" cy="389.00" r="1.9" fill="#AC0C33"/>
<circle cx="219.24" cy="403.30" r="0.85" fill="#1e1e1e"/>
<circle cx="221.84" cy="403.30" r="0.85" fill="#1e1e1e"/>
<circle cx="224.44" cy="403.30" r="0.85" fill="#1e1e1e"/>
<circle cx="237.90" cy="403.30" r="0.85" fill="#1e1e1e"/>
<circle cx="240.50" cy="403.30" r="0.85" fill="#1e1e1e"/>
<circle cx="243.10" cy="403.30" r="0.85" fill="#1e1e1e"/>
<circle cx="289.24" cy="396.30" r="0.85" fill="#1e1e1e"/>
<circle cx="291.84" cy="396.30" r="0.85" fill="#1e1e1e"/>
<circle cx="294.44" cy="396.30" r="0.85" fill="#1e1e1e"/>
<polyline points="383.57,354.70 402.27,351.60 453.70,343.70" fill="none" stroke="#519D25" stroke-width="1.25"/>
<line x1="383.57" y1="354.10" x2="383.57" y2="355.30" stroke="#519D25" stroke-width="0.9" />
<line x1="381.47" y1="354.10" x2="385.68" y2="354.10" stroke="#519D25" stroke-width="0.9" />
<line x1="381.47" y1="355.30" x2="385.68" y2="355.30" stroke="#519D25" stroke-width="0.9" />
<path d="M381.38,356.61 L385.77,356.61 L383.57,352.79 Z" fill="#519D25"/>
<line x1="402.27" y1="349.10" x2="402.27" y2="354.10" stroke="#519D25" stroke-width="0.9" />
<line x1="400.17" y1="349.10" x2="404.38" y2="349.10" stroke="#519D25" stroke-width="0.9" />
<line x1="400.17" y1="354.10" x2="404.38" y2="354.10" stroke="#519D25" stroke-width="0.9" />
<path d="M400.07,353.51 L404.47,353.51 L402.27,349.69 Z" fill="#519D25"/>
<line x1="453.70" y1="341.50" x2="453.70" y2="345.90" stroke="#519D25" stroke-width="0.9" />
<line x1="451.60" y1="341.50" x2="455.80" y2="341.50" stroke="#519D25" stroke-width="0.9" />
<line x1="451.60" y1="345.90" x2="455.80" y2="345.90" stroke="#519D25" stroke-width="0.9" />
<path d="M451.50,345.61 L455.90,345.61 L453.70,341.79 Z" fill="#519D25"/>
<polyline points="383.57,388.10 402.27,388.40 453.70,381.40" fill="none" stroke="#224287" stroke-width="1.25"/>
<line x1="383.57" y1="387.50" x2="383.57" y2="388.70" stroke="#224287" stroke-width="0.9" />
<line x1="381.47" y1="387.50" x2="385.68" y2="387.50" stroke="#224287" stroke-width="0.9" />
<line x1="381.47" y1="388.70" x2="385.68" y2="388.70" stroke="#224287" stroke-width="0.9" />
<rect x="381.57" y="386.10" width="4.00" height="4.00" fill="#224287" stroke="none" stroke-width="0" />
<line x1="402.27" y1="387.80" x2="402.27" y2="389.00" stroke="#224287" stroke-width="0.9" />
<line x1="400.17" y1="387.80" x2="404.38" y2="387.80" stroke="#224287" stroke-width="0.9" />
<line x1="400.17" y1="389.00" x2="404.38" y2="389.00" stroke="#224287" stroke-width="0.9" />
<rect x="400.27" y="386.40" width="4.00" height="4.00" fill="#224287" stroke="none" stroke-width="0" />
<line x1="453.70" y1="380.80" x2="453.70" y2="382.00" stroke="#224287" stroke-width="0.9" />
<line x1="451.60" y1="380.80" x2="455.80" y2="380.80" stroke="#224287" stroke-width="0.9" />
<line x1="451.60" y1="382.00" x2="455.80" y2="382.00" stroke="#224287" stroke-width="0.9" />
<rect x="451.70" y="379.40" width="4.00" height="4.00" fill="#224287" stroke="none" stroke-width="0" />
<polyline points="383.57,397.50 402.27,397.30 453.70,389.80" fill="none" stroke="#AC0C33" stroke-width="1.25"/>
<line x1="383.57" y1="397.00" x2="383.57" y2="398.00" stroke="#AC0C33" stroke-width="0.9" />
<line x1="381.47" y1="397.00" x2="385.68" y2="397.00" stroke="#AC0C33" stroke-width="0.9" />
<line x1="381.47" y1="398.00" x2="385.68" y2="398.00" stroke="#AC0C33" stroke-width="0.9" />
<circle cx="383.57" cy="397.50" r="1.9" fill="#AC0C33"/>
<line x1="402.27" y1="396.80" x2="402.27" y2="397.80" stroke="#AC0C33" stroke-width="0.9" />
<line x1="400.17" y1="396.80" x2="404.38" y2="396.80" stroke="#AC0C33" stroke-width="0.9" />
<line x1="400.17" y1="397.80" x2="404.38" y2="397.80" stroke="#AC0C33" stroke-width="0.9" />
<circle cx="402.27" cy="397.30" r="1.9" fill="#AC0C33"/>
<line x1="453.70" y1="389.30" x2="453.70" y2="390.30" stroke="#AC0C33" stroke-width="0.9" />
<line x1="451.60" y1="389.30" x2="455.80" y2="389.30" stroke="#AC0C33" stroke-width="0.9" />
<line x1="451.60" y1="390.30" x2="455.80" y2="390.30" stroke="#AC0C33" stroke-width="0.9" />
<circle cx="453.70" cy="389.80" r="1.9" fill="#AC0C33"/>
<circle cx="380.97" cy="405.00" r="0.85" fill="#1e1e1e"/>
<circle cx="383.57" cy="405.00" r="0.85" fill="#1e1e1e"/>
<circle cx="386.18" cy="405.00" r="0.85" fill="#1e1e1e"/>
<circle cx="399.67" cy="405.00" r="0.85" fill="#1e1e1e"/>
<circle cx="402.27" cy="405.00" r="0.85" fill="#1e1e1e"/>
<circle cx="404.88" cy="405.00" r="0.85" fill="#1e1e1e"/>
<circle cx="451.10" cy="397.00" r="0.85" fill="#1e1e1e"/>
<circle cx="453.70" cy="397.00" r="0.85" fill="#1e1e1e"/>
<circle cx="456.30" cy="397.00" r="0.85" fill="#1e1e1e"/>
<text x="7.50" y="467.70" font-size="11.6" font-weight="bold" fill="#000" stroke="#000" stroke-width="0.35">I</text>
<text x="136.40" y="467.70" font-size="11.6" font-weight="bold" fill="#000" stroke="#000" stroke-width="0.35">J</text>
<text x="259.40" y="467.70" font-size="11.6" font-weight="bold" fill="#000" stroke="#000" stroke-width="0.35">K</text>
<text x="390.80" y="467.70" font-size="11.6" font-weight="bold" fill="#000" stroke="#000" stroke-width="0.35">L</text>
<line x1="36.60" y1="493.60" x2="36.60" y2="585.10" stroke="#111" stroke-width="1.15" />
<line x1="36.10" y1="584.60" x2="125.20" y2="584.60" stroke="#111" stroke-width="1.15" />
<line x1="33.60" y1="584.60" x2="36.60" y2="584.60" stroke="#111" stroke-width="1.0" />
<text x="31.00" y="587.10" font-size="7.0" text-anchor="end" fill="#1a1a1a" font-weight="normal" textLength="3.62" lengthAdjust="spacingAndGlyphs" >0</text>
<line x1="33.60" y1="562.27" x2="36.60" y2="562.27" stroke="#111" stroke-width="1.0" />
<text x="31.00" y="564.77" font-size="7.0" text-anchor="end" fill="#1a1a1a" font-weight="normal" textLength="3.62" lengthAdjust="spacingAndGlyphs" >2</text>
<line x1="33.60" y1="539.94" x2="36.60" y2="539.94" stroke="#111" stroke-width="1.0" />
<text x="31.00" y="542.44" font-size="7.0" text-anchor="end" fill="#1a1a1a" font-weight="normal" textLength="3.62" lengthAdjust="spacingAndGlyphs" >4</text>
<line x1="33.60" y1="517.61" x2="36.60" y2="517.61" stroke="#111" stroke-width="1.0" />
<text x="31.00" y="520.11" font-size="7.0" text-anchor="end" fill="#1a1a1a" font-weight="normal" textLength="3.62" lengthAdjust="spacingAndGlyphs" >6</text>
<line x1="33.60" y1="495.28" x2="36.60" y2="495.28" stroke="#111" stroke-width="1.0" />
<text x="31.00" y="497.78" font-size="7.0" text-anchor="end" fill="#1a1a1a" font-weight="normal" textLength="3.62" lengthAdjust="spacingAndGlyphs" >8</text>
<line x1="57.50" y1="584.60" x2="57.50" y2="587.60" stroke="#111" stroke-width="1.0" />
<text x="57.50" y="596.40" font-size="6.5" text-anchor="middle" fill="#222" font-weight="normal" textLength="21.6" lengthAdjust="spacingAndGlyphs" stroke="#222" stroke-width="0.08" >Week 9</text>
<line x1="104.60" y1="584.60" x2="104.60" y2="587.60" stroke="#111" stroke-width="1.0" />
<text x="104.60" y="596.40" font-size="6.5" text-anchor="middle" fill="#222" font-weight="normal" textLength="25.6" lengthAdjust="spacingAndGlyphs" stroke="#222" stroke-width="0.08" >Week 20</text>
<rect x="34.70" y="484.30" width="5.20" height="4.60" fill="#2E4A7E" stroke="#1a2c55" stroke-width="0.5" />
<text x="42.90" y="488.60" font-size="5.9" text-anchor="start" fill="#222" font-weight="normal" textLength="32.3" lengthAdjust="spacingAndGlyphs" stroke="#222" stroke-width="0.04" >R338L-Padua</text>
<rect x="84.90" y="484.30" width="5.20" height="4.60" fill="#A3002B" stroke="#5a0016" stroke-width="0.5" />
<text x="93.00" y="488.60" font-size="5.9" text-anchor="start" fill="#222" font-weight="normal" textLength="33.3" lengthAdjust="spacingAndGlyphs" stroke="#222" stroke-width="0.04" >CB 2679d-GT</text>
<text x="80.90" y="478.40" font-size="8.8" text-anchor="middle" fill="#222" stroke="#222" stroke-width="0.07">5X10<tspan font-size="6.2" dy="-3.7">9</tspan><tspan dy="3.7"> vg</tspan></text>
<text transform="translate(21.00,538.50) rotate(-90)" x="0" y="0" font-size="8.2" text-anchor="middle" fill="#222" stroke="#222" stroke-width="0.06" textLength="53.8" lengthAdjust="spacingAndGlyphs">FIX activity (U/ml)</text>
<rect x="43.35" y="553.45" width="10.10" height="31.15" fill="#2E4A7E" stroke="#1b3566" stroke-width="0.9" />
<line x1="48.40" y1="553.00" x2="48.40" y2="549.20" stroke="#222" stroke-width="1.0" />
<line x1="45.30" y1="549.20" x2="51.50" y2="549.20" stroke="#222" stroke-width="1.0" />
<rect x="60.95" y="538.65" width="10.30" height="45.95" fill="#A3002B" stroke="#8a0020" stroke-width="0.9" />
<line x1="66.10" y1="538.20" x2="66.10" y2="532.90" stroke="#222" stroke-width="1.0" />
<line x1="63.00" y1="532.90" x2="69.20" y2="532.90" stroke="#222" stroke-width="1.0" />
<rect x="90.85" y="550.35" width="10.10" height="34.25" fill="#2E4A7E" stroke="#1b3566" stroke-width="0.9" />
<line x1="95.90" y1="549.90" x2="95.90" y2="545.50" stroke="#222" stroke-width="1.0" />
<line x1="92.80" y1="545.50" x2="99.00" y2="545.50" stroke="#222" stroke-width="1.0" />
<rect x="108.25" y="536.55" width="10.60" height="48.05" fill="#A3002B" stroke="#8a0020" stroke-width="0.9" />
<line x1="113.55" y1="536.10" x2="113.55" y2="531.50" stroke="#222" stroke-width="1.0" />
<line x1="110.45" y1="531.50" x2="116.65" y2="531.50" stroke="#222" stroke-width="1.0" />
<polyline points="48.40,545.40 48.40,523.30 65.60,523.30 65.60,528.50" fill="none" stroke="#1a1a1a" stroke-width="1.05"/>
<circle cx="57.00" cy="519.50" r="0.9" fill="#1e1e1e"/>
<polyline points="96.00,541.30 96.00,523.30 113.50,523.30 113.50,527.50" fill="none" stroke="#1a1a1a" stroke-width="1.05"/>
<circle cx="104.75" cy="519.70" r="0.9" fill="#1e1e1e"/>
<line x1="159.30" y1="493.60" x2="159.30" y2="585.10" stroke="#111" stroke-width="1.15" />
<line x1="158.80" y1="584.60" x2="247.70" y2="584.60" stroke="#111" stroke-width="1.15" />
<line x1="156.30" y1="584.60" x2="159.30" y2="584.60" stroke="#111" stroke-width="1.0" />
<text x="153.70" y="587.10" font-size="7.0" text-anchor="end" fill="#1a1a1a" font-weight="normal" textLength="3.62" lengthAdjust="spacingAndGlyphs" >0</text>
<line x1="156.30" y1="562.27" x2="159.30" y2="562.27" stroke="#111" stroke-width="1.0" />
<text x="153.70" y="564.77" font-size="7.0" text-anchor="end" fill="#1a1a1a" font-weight="normal" textLength="3.62" lengthAdjust="spacingAndGlyphs" >2</text>
<line x1="156.30" y1="539.94" x2="159.30" y2="539.94" stroke="#111" stroke-width="1.0" />
<text x="153.70" y="542.44" font-size="7.0" text-anchor="end" fill="#1a1a1a" font-weight="normal" textLength="3.62" lengthAdjust="spacingAndGlyphs" >4</text>
<line x1="156.30" y1="517.61" x2="159.30" y2="517.61" stroke="#111" stroke-width="1.0" />
<text x="153.70" y="520.11" font-size="7.0" text-anchor="end" fill="#1a1a1a" font-weight="normal" textLength="3.62" lengthAdjust="spacingAndGlyphs" >6</text>
<line x1="156.30" y1="495.28" x2="159.30" y2="495.28" stroke="#111" stroke-width="1.0" />
<text x="153.70" y="497.78" font-size="7.0" text-anchor="end" fill="#1a1a1a" font-weight="normal" textLength="3.62" lengthAdjust="spacingAndGlyphs" >8</text>
<line x1="179.60" y1="584.60" x2="179.60" y2="587.60" stroke="#111" stroke-width="1.0" />
<text x="179.60" y="596.40" font-size="6.5" text-anchor="middle" fill="#222" font-weight="normal" textLength="21.6" lengthAdjust="spacingAndGlyphs" stroke="#222" stroke-width="0.08" >Week 9</text>
<line x1="227.20" y1="584.60" x2="227.20" y2="587.60" stroke="#111" stroke-width="1.0" />
<text x="227.20" y="596.40" font-size="6.5" text-anchor="middle" fill="#222" font-weight="normal" textLength="25.6" lengthAdjust="spacingAndGlyphs" stroke="#222" stroke-width="0.08" >Week 20</text>
<rect x="157.40" y="484.30" width="5.20" height="4.60" fill="#2E4A7E" stroke="#1a2c55" stroke-width="0.5" />
<text x="165.60" y="488.60" font-size="5.9" text-anchor="start" fill="#222" font-weight="normal" textLength="32.3" lengthAdjust="spacingAndGlyphs" stroke="#222" stroke-width="0.04" >R338L-Padua</text>
<rect x="207.60" y="484.30" width="5.20" height="4.60" fill="#A3002B" stroke="#5a0016" stroke-width="0.5" />
<text x="215.70" y="488.60" font-size="5.9" text-anchor="start" fill="#222" font-weight="normal" textLength="33.3" lengthAdjust="spacingAndGlyphs" stroke="#222" stroke-width="0.04" >CB 2679d-GT</text>
<text x="203.60" y="478.40" font-size="8.8" text-anchor="middle" fill="#222" stroke="#222" stroke-width="0.07">1X10<tspan font-size="6.2" dy="-3.7">10</tspan><tspan dy="3.7"> vg</tspan></text>
<text transform="translate(143.80,538.50) rotate(-90)" x="0" y="0" font-size="8.2" text-anchor="middle" fill="#222" stroke="#222" stroke-width="0.06" textLength="53.8" lengthAdjust="spacingAndGlyphs">FIX activity (U/ml)</text>
<rect x="165.75" y="523.75" width="10.50" height="60.85" fill="#2E4A7E" stroke="#1b3566" stroke-width="0.9" />
<line x1="171.00" y1="523.30" x2="171.00" y2="518.10" stroke="#222" stroke-width="1.0" />
<line x1="167.90" y1="518.10" x2="174.10" y2="518.10" stroke="#222" stroke-width="1.0" />
<rect x="183.55" y="513.35" width="10.20" height="71.25" fill="#A3002B" stroke="#8a0020" stroke-width="0.9" />
<line x1="188.65" y1="512.90" x2="188.65" y2="507.30" stroke="#222" stroke-width="1.0" />
<line x1="185.55" y1="507.30" x2="191.75" y2="507.30" stroke="#222" stroke-width="1.0" />
<rect x="213.35" y="530.55" width="10.40" height="54.05" fill="#2E4A7E" stroke="#1b3566" stroke-width="0.9" />
<line x1="218.55" y1="530.10" x2="218.55" y2="525.50" stroke="#222" stroke-width="1.0" />
<line x1="215.45" y1="525.50" x2="221.65" y2="525.50" stroke="#222" stroke-width="1.0" />
<rect x="231.05" y="522.65" width="10.40" height="61.95" fill="#A3002B" stroke="#8a0020" stroke-width="0.9" />
<line x1="236.25" y1="522.20" x2="236.25" y2="517.20" stroke="#222" stroke-width="1.0" />
<line x1="233.15" y1="517.20" x2="239.35" y2="517.20" stroke="#222" stroke-width="1.0" />
<polyline points="170.90,514.50 170.90,502.20 189.10,502.20 189.10,504.60" fill="none" stroke="#1a1a1a" stroke-width="1.05"/>
<text x="180.00" y="499.00" font-size="5.8" text-anchor="middle" fill="#333" font-weight="normal" stroke="#333" stroke-width="0.08" >ns</text>
<polyline points="218.40,522.50 218.40,508.40 236.50,508.40 236.50,512.80" fill="none" stroke="#1a1a1a" stroke-width="1.05"/>
<text x="227.45" y="506.30" font-size="5.8" text-anchor="middle" fill="#333" font-weight="normal" stroke="#333" stroke-width="0.08" >ns</text>
<line x1="292.30" y1="493.60" x2="292.30" y2="585.10" stroke="#111" stroke-width="1.15" />
<line x1="291.80" y1="584.60" x2="380.30" y2="584.60" stroke="#111" stroke-width="1.15" />
<line x1="289.30" y1="584.60" x2="292.30" y2="584.60" stroke="#111" stroke-width="1.0" />
<text x="286.70" y="587.10" font-size="7.0" text-anchor="end" fill="#1a1a1a" font-weight="normal" textLength="3.62" lengthAdjust="spacingAndGlyphs" >0</text>
<line x1="289.30" y1="566.70" x2="292.30" y2="566.70" stroke="#111" stroke-width="1.0" />
<text x="286.70" y="569.20" font-size="7.0" text-anchor="end" fill="#1a1a1a" font-weight="normal" textLength="14.48" lengthAdjust="spacingAndGlyphs" >1000</text>
<line x1="289.30" y1="548.80" x2="292.30" y2="548.80" stroke="#111" stroke-width="1.0" />
<text x="286.70" y="551.30" font-size="7.0" text-anchor="end" fill="#1a1a1a" font-weight="normal" textLength="14.48" lengthAdjust="spacingAndGlyphs" >2000</text>
<line x1="289.30" y1="530.90" x2="292.30" y2="530.90" stroke="#111" stroke-width="1.0" />
<text x="286.70" y="533.40" font-size="7.0" text-anchor="end" fill="#1a1a1a" font-weight="normal" textLength="14.48" lengthAdjust="spacingAndGlyphs" >3000</text>
<line x1="289.30" y1="513.00" x2="292.30" y2="513.00" stroke="#111" stroke-width="1.0" />
<text x="286.70" y="515.50" font-size="7.0" text-anchor="end" fill="#1a1a1a" font-weight="normal" textLength="14.48" lengthAdjust="spacingAndGlyphs" >4000</text>
<line x1="289.30" y1="495.10" x2="292.30" y2="495.10" stroke="#111" stroke-width="1.0" />
<text x="286.70" y="497.60" font-size="7.0" text-anchor="end" fill="#1a1a1a" font-weight="normal" textLength="14.48" lengthAdjust="spacingAndGlyphs" >5000</text>
<line x1="313.10" y1="584.60" x2="313.10" y2="587.60" stroke="#111" stroke-width="1.0" />
<text x="313.10" y="596.40" font-size="6.5" text-anchor="middle" fill="#222" font-weight="normal" textLength="21.6" lengthAdjust="spacingAndGlyphs" stroke="#222" stroke-width="0.08" >Week 9</text>
<line x1="360.60" y1="584.60" x2="360.60" y2="587.60" stroke="#111" stroke-width="1.0" />
<text x="360.60" y="596.40" font-size="6.5" text-anchor="middle" fill="#222" font-weight="normal" textLength="25.6" lengthAdjust="spacingAndGlyphs" stroke="#222" stroke-width="0.08" >Week 20</text>
<rect x="292.40" y="485.50" width="2.80" height="2.80" fill="#2B5AA8" stroke="#0d1f40" stroke-width="0.4" />
<text x="298.70" y="488.60" font-size="5.9" text-anchor="start" fill="#222" font-weight="normal" textLength="31.9" lengthAdjust="spacingAndGlyphs" stroke="#222" stroke-width="0.04" >R338L-Padua</text>
<circle cx="341.40" cy="486.9" r="1.5" fill="#C8001E" stroke="#5a0010" stroke-width="0.4"/>
<text x="346.30" y="488.60" font-size="5.9" text-anchor="start" fill="#222" font-weight="normal" textLength="33.8" lengthAdjust="spacingAndGlyphs" stroke="#222" stroke-width="0.04" >CB 2679d-GT</text>
<text x="336.90" y="478.40" font-size="8.8" text-anchor="middle" fill="#222" stroke="#222" stroke-width="0.07">5X10<tspan font-size="6.2" dy="-3.7">9</tspan><tspan dy="3.7"> vg</tspan></text>
<text transform="translate(266.70,538.15) rotate(-90)" x="0" y="0" font-size="8.2" text-anchor="middle" fill="#222" stroke="#222" stroke-width="0.06" textLength="69.1" lengthAdjust="spacingAndGlyphs">Specific activity (U/mg)</text>
<rect x="298.70" y="551.20" width="11.50" height="33.40" fill="#9098C4" stroke="none" stroke-width="0" />
<rect x="316.30" y="540.00" width="11.50" height="44.60" fill="#D28B7D" stroke="none" stroke-width="0" />
<rect x="346.20" y="545.80" width="11.50" height="38.80" fill="#9098C4" stroke="none" stroke-width="0" />
<rect x="363.80" y="523.70" width="11.50" height="60.90" fill="#D28B7D" stroke="none" stroke-width="0" />
<line x1="304.20" y1="547.10" x2="304.20" y2="554.50" stroke="#0a1a3a" stroke-width="0.9" />
<line x1="302.00" y1="547.10" x2="306.40" y2="547.10" stroke="#0a1a3a" stroke-width="0.9" />
<line x1="302.00" y1="554.50" x2="306.40" y2="554.50" stroke="#0a1a3a" stroke-width="0.9" />
<rect x="302.45" y="535.25" width="3.50" height="3.50" fill="#24509C" stroke="#061028" stroke-width="0.75" />
<rect x="298.15" y="546.95" width="3.50" height="3.50" fill="#24509C" stroke="#061028" stroke-width="0.75" />
<rect x="300.85" y="546.95" width="3.50" height="3.50" fill="#24509C" stroke="#061028" stroke-width="0.75" />
<rect x="304.05" y="546.95" width="3.50" height="3.50" fill="#24509C" stroke="#061028" stroke-width="0.75" />
<rect x="306.85" y="546.95" width="3.50" height="3.50" fill="#24509C" stroke="#061028" stroke-width="0.75" />
<rect x="302.45" y="553.25" width="3.50" height="3.50" fill="#24509C" stroke="#061028" stroke-width="0.75" />
<rect x="302.45" y="554.45" width="3.50" height="3.50" fill="#24509C" stroke="#061028" stroke-width="0.75" />
<rect x="302.45" y="567.65" width="3.50" height="3.50" fill="#24509C" stroke="#061028" stroke-width="0.75" />
<line x1="322.20" y1="534.80" x2="322.20" y2="544.20" stroke="#3a0008" stroke-width="0.9" />
<line x1="320.00" y1="534.80" x2="324.40" y2="534.80" stroke="#3a0008" stroke-width="0.9" />
<line x1="320.00" y1="544.20" x2="324.40" y2="544.20" stroke="#3a0008" stroke-width="0.9" />
<circle cx="319.90" cy="525.20" r="1.8" fill="#C4001C" stroke="#3a0008" stroke-width="0.65"/>
<circle cx="324.50" cy="523.80" r="1.8" fill="#C4001C" stroke="#3a0008" stroke-width="0.65"/>
<circle cx="322.20" cy="531.00" r="1.8" fill="#C4001C" stroke="#3a0008" stroke-width="0.65"/>
<circle cx="322.20" cy="539.50" r="1.8" fill="#C4001C" stroke="#3a0008" stroke-width="0.65"/>
<circle cx="318.10" cy="541.80" r="1.8" fill="#C4001C" stroke="#3a0008" stroke-width="0.65"/>
<circle cx="322.20" cy="544.90" r="1.8" fill="#C4001C" stroke="#3a0008" stroke-width="0.65"/>
<circle cx="326.20" cy="543.40" r="1.8" fill="#C4001C" stroke="#3a0008" stroke-width="0.65"/>
<circle cx="322.20" cy="565.30" r="1.8" fill="#C4001C" stroke="#3a0008" stroke-width="0.65"/>
<line x1="351.80" y1="541.50" x2="351.80" y2="550.00" stroke="#0a1a3a" stroke-width="0.9" />
<line x1="349.60" y1="541.50" x2="354.00" y2="541.50" stroke="#0a1a3a" stroke-width="0.9" />
<line x1="349.60" y1="550.00" x2="354.00" y2="550.00" stroke="#0a1a3a" stroke-width="0.9" />
<rect x="354.25" y="534.45" width="3.50" height="3.50" fill="#24509C" stroke="#061028" stroke-width="0.75" />
<rect x="349.75" y="537.85" width="3.50" height="3.50" fill="#24509C" stroke="#061028" stroke-width="0.75" />
<rect x="345.95" y="540.15" width="3.50" height="3.50" fill="#24509C" stroke="#061028" stroke-width="0.75" />
<rect x="354.25" y="540.55" width="3.50" height="3.50" fill="#24509C" stroke="#061028" stroke-width="0.75" />
<rect x="350.35" y="543.05" width="3.50" height="3.50" fill="#24509C" stroke="#061028" stroke-width="0.75" />
<rect x="354.25" y="546.95" width="3.50" height="3.50" fill="#24509C" stroke="#061028" stroke-width="0.75" />
<rect x="349.75" y="550.15" width="3.50" height="3.50" fill="#24509C" stroke="#061028" stroke-width="0.75" />
<rect x="349.75" y="559.05" width="3.50" height="3.50" fill="#24509C" stroke="#061028" stroke-width="0.75" />
<line x1="369.40" y1="517.60" x2="369.40" y2="528.60" stroke="#3a0008" stroke-width="0.9" />
<line x1="367.20" y1="517.60" x2="371.60" y2="517.60" stroke="#3a0008" stroke-width="0.9" />
<line x1="367.20" y1="528.60" x2="371.60" y2="528.60" stroke="#3a0008" stroke-width="0.9" />
<circle cx="369.80" cy="503.00" r="1.8" fill="#C4001C" stroke="#3a0008" stroke-width="0.65"/>
<circle cx="369.80" cy="510.00" r="1.8" fill="#C4001C" stroke="#3a0008" stroke-width="0.65"/>
<circle cx="369.80" cy="518.90" r="1.8" fill="#C4001C" stroke="#3a0008" stroke-width="0.65"/>
<circle cx="365.60" cy="526.80" r="1.8" fill="#C4001C" stroke="#3a0008" stroke-width="0.65"/>
<circle cx="373.80" cy="524.80" r="1.8" fill="#C4001C" stroke="#3a0008" stroke-width="0.65"/>
<circle cx="369.60" cy="534.10" r="1.8" fill="#C4001C" stroke="#3a0008" stroke-width="0.65"/>
<circle cx="369.60" cy="543.90" r="1.8" fill="#C4001C" stroke="#3a0008" stroke-width="0.65"/>
<polyline points="304.00,530.40 304.00,513.50 322.30,513.50 322.30,517.90" fill="none" stroke="#1a1a1a" stroke-width="1.05"/>
<circle cx="313.15" cy="509.40" r="0.9" fill="#1e1e1e"/>
<polyline points="352.10,530.80 352.10,496.20 369.80,496.20 369.80,498.10" fill="none" stroke="#1a1a1a" stroke-width="1.05"/>
<circle cx="359.45" cy="493.00" r="0.9" fill="#1e1e1e"/>
<circle cx="362.45" cy="493.00" r="0.9" fill="#1e1e1e"/>
<line x1="423.80" y1="493.60" x2="423.80" y2="585.10" stroke="#111" stroke-width="1.15" />
<line x1="423.30" y1="584.60" x2="512.80" y2="584.60" stroke="#111" stroke-width="1.15" />
<line x1="420.80" y1="584.60" x2="423.80" y2="584.60" stroke="#111" stroke-width="1.0" />
<text x="418.20" y="587.10" font-size="7.0" text-anchor="end" fill="#1a1a1a" font-weight="normal" textLength="3.62" lengthAdjust="spacingAndGlyphs" >0</text>
<line x1="420.80" y1="566.70" x2="423.80" y2="566.70" stroke="#111" stroke-width="1.0" />
<text x="418.20" y="569.20" font-size="7.0" text-anchor="end" fill="#1a1a1a" font-weight="normal" textLength="14.48" lengthAdjust="spacingAndGlyphs" >1000</text>
<line x1="420.80" y1="548.80" x2="423.80" y2="548.80" stroke="#111" stroke-width="1.0" />
<text x="418.20" y="551.30" font-size="7.0" text-anchor="end" fill="#1a1a1a" font-weight="normal" textLength="14.48" lengthAdjust="spacingAndGlyphs" >2000</text>
<line x1="420.80" y1="530.90" x2="423.80" y2="530.90" stroke="#111" stroke-width="1.0" />
<text x="418.20" y="533.40" font-size="7.0" text-anchor="end" fill="#1a1a1a" font-weight="normal" textLength="14.48" lengthAdjust="spacingAndGlyphs" >3000</text>
<line x1="420.80" y1="513.00" x2="423.80" y2="513.00" stroke="#111" stroke-width="1.0" />
<text x="418.20" y="515.50" font-size="7.0" text-anchor="end" fill="#1a1a1a" font-weight="normal" textLength="14.48" lengthAdjust="spacingAndGlyphs" >4000</text>
<line x1="420.80" y1="495.10" x2="423.80" y2="495.10" stroke="#111" stroke-width="1.0" />
<text x="418.20" y="497.60" font-size="7.0" text-anchor="end" fill="#1a1a1a" font-weight="normal" textLength="14.48" lengthAdjust="spacingAndGlyphs" >5000</text>
<line x1="444.40" y1="584.60" x2="444.40" y2="587.60" stroke="#111" stroke-width="1.0" />
<text x="444.40" y="596.40" font-size="6.5" text-anchor="middle" fill="#222" font-weight="normal" textLength="21.6" lengthAdjust="spacingAndGlyphs" stroke="#222" stroke-width="0.08" >Week 9</text>
<line x1="492.10" y1="584.60" x2="492.10" y2="587.60" stroke="#111" stroke-width="1.0" />
<text x="492.10" y="596.40" font-size="6.5" text-anchor="middle" fill="#222" font-weight="normal" textLength="25.6" lengthAdjust="spacingAndGlyphs" stroke="#222" stroke-width="0.08" >Week 20</text>
<rect x="423.90" y="485.50" width="2.80" height="2.80" fill="#2B5AA8" stroke="#0d1f40" stroke-width="0.4" />
<text x="430.20" y="488.60" font-size="5.9" text-anchor="start" fill="#222" font-weight="normal" textLength="31.9" lengthAdjust="spacingAndGlyphs" stroke="#222" stroke-width="0.04" >R338L-Padua</text>
<circle cx="472.90" cy="486.9" r="1.5" fill="#C8001E" stroke="#5a0010" stroke-width="0.4"/>
<text x="477.80" y="488.60" font-size="5.9" text-anchor="start" fill="#222" font-weight="normal" textLength="33.8" lengthAdjust="spacingAndGlyphs" stroke="#222" stroke-width="0.04" >CB 2679d-GT</text>
<text x="468.60" y="478.40" font-size="8.8" text-anchor="middle" fill="#222" stroke="#222" stroke-width="0.07">1X10<tspan font-size="6.2" dy="-3.7">10</tspan><tspan dy="3.7"> vg</tspan></text>
<text transform="translate(398.20,538.40) rotate(-90)" x="0" y="0" font-size="8.2" text-anchor="middle" fill="#222" stroke="#222" stroke-width="0.06" textLength="68.6" lengthAdjust="spacingAndGlyphs">Specific activity (U/mg)</text>
<rect x="430.20" y="548.70" width="11.50" height="35.90" fill="#9098C4" stroke="none" stroke-width="0" />
<rect x="447.90" y="532.70" width="11.50" height="51.90" fill="#D28B7D" stroke="none" stroke-width="0" />
<rect x="477.70" y="546.20" width="11.50" height="38.40" fill="#9098C4" stroke="none" stroke-width="0" />
<rect x="495.60" y="526.90" width="11.50" height="57.70" fill="#D28B7D" stroke="none" stroke-width="0" />
<line x1="436.00" y1="542.50" x2="436.00" y2="551.00" stroke="#0a1a3a" stroke-width="0.9" />
<line x1="433.80" y1="542.50" x2="438.20" y2="542.50" stroke="#0a1a3a" stroke-width="0.9" />
<line x1="433.80" y1="551.00" x2="438.20" y2="551.00" stroke="#0a1a3a" stroke-width="0.9" />
<rect x="438.35" y="536.45" width="3.50" height="3.50" fill="#24509C" stroke="#061028" stroke-width="0.75" />
<rect x="434.45" y="539.65" width="3.50" height="3.50" fill="#24509C" stroke="#061028" stroke-width="0.75" />
<rect x="434.45" y="542.75" width="3.50" height="3.50" fill="#24509C" stroke="#061028" stroke-width="0.75" />
<rect x="429.75" y="544.45" width="3.50" height="3.50" fill="#24509C" stroke="#061028" stroke-width="0.75" />
<rect x="438.75" y="545.85" width="3.50" height="3.50" fill="#24509C" stroke="#061028" stroke-width="0.75" />
<rect x="434.45" y="549.15" width="3.50" height="3.50" fill="#24509C" stroke="#061028" stroke-width="0.75" />
<rect x="434.45" y="555.45" width="3.50" height="3.50" fill="#24509C" stroke="#061028" stroke-width="0.75" />
<rect x="434.45" y="559.55" width="3.50" height="3.50" fill="#24509C" stroke="#061028" stroke-width="0.75" />
<line x1="454.00" y1="527.50" x2="454.00" y2="538.00" stroke="#4a000c" stroke-width="0.9" />
<line x1="451.80" y1="527.50" x2="456.20" y2="527.50" stroke="#4a000c" stroke-width="0.9" />
<line x1="451.80" y1="538.00" x2="456.20" y2="538.00" stroke="#4a000c" stroke-width="0.9" />
<circle cx="453.50" cy="517.90" r="1.8" fill="#C4001C" stroke="#3a0008" stroke-width="0.65"/>
<circle cx="453.50" cy="523.70" r="1.8" fill="#C4001C" stroke="#3a0008" stroke-width="0.65"/>
<circle cx="453.50" cy="527.70" r="1.8" fill="#C4001C" stroke="#3a0008" stroke-width="0.65"/>
<circle cx="449.50" cy="533.90" r="1.8" fill="#C4001C" stroke="#3a0008" stroke-width="0.65"/>
<circle cx="457.80" cy="534.90" r="1.8" fill="#C4001C" stroke="#3a0008" stroke-width="0.65"/>
<circle cx="453.50" cy="536.40" r="1.8" fill="#C4001C" stroke="#3a0008" stroke-width="0.65"/>
<circle cx="453.50" cy="552.00" r="1.8" fill="#C4001C" stroke="#3a0008" stroke-width="0.65"/>
<line x1="483.50" y1="543.00" x2="483.50" y2="549.50" stroke="#0a1a3a" stroke-width="0.9" />
<line x1="481.30" y1="543.00" x2="485.70" y2="543.00" stroke="#0a1a3a" stroke-width="0.9" />
<line x1="481.30" y1="549.50" x2="485.70" y2="549.50" stroke="#0a1a3a" stroke-width="0.9" />
<rect x="481.35" y="531.55" width="3.50" height="3.50" fill="#24509C" stroke="#061028" stroke-width="0.75" />
<rect x="477.45" y="541.15" width="3.50" height="3.50" fill="#24509C" stroke="#061028" stroke-width="0.75" />
<rect x="485.95" y="542.45" width="3.50" height="3.50" fill="#24509C" stroke="#061028" stroke-width="0.75" />
<rect x="481.75" y="545.55" width="3.50" height="3.50" fill="#24509C" stroke="#061028" stroke-width="0.75" />
<rect x="477.45" y="545.95" width="3.50" height="3.50" fill="#24509C" stroke="#061028" stroke-width="0.75" />
<rect x="485.95" y="545.95" width="3.50" height="3.50" fill="#24509C" stroke="#061028" stroke-width="0.75" />
<rect x="481.75" y="554.55" width="3.50" height="3.50" fill="#24509C" stroke="#061028" stroke-width="0.75" />
<rect x="481.75" y="558.45" width="3.50" height="3.50" fill="#24509C" stroke="#061028" stroke-width="0.75" />
<line x1="501.30" y1="521.70" x2="501.30" y2="532.00" stroke="#4a000c" stroke-width="0.9" />
<line x1="499.10" y1="521.70" x2="503.50" y2="521.70" stroke="#4a000c" stroke-width="0.9" />
<line x1="499.10" y1="532.00" x2="503.50" y2="532.00" stroke="#4a000c" stroke-width="0.9" />
<circle cx="501.30" cy="510.20" r="1.8" fill="#C4001C" stroke="#3a0008" stroke-width="0.65"/>
<circle cx="498.50" cy="521.70" r="1.8" fill="#C4001C" stroke="#3a0008" stroke-width="0.65"/>
<circle cx="502.70" cy="521.70" r="1.8" fill="#C4001C" stroke="#3a0008" stroke-width="0.65"/>
<circle cx="496.90" cy="529.40" r="1.8" fill="#C4001C" stroke="#3a0008" stroke-width="0.65"/>
<circle cx="501.30" cy="530.40" r="1.8" fill="#C4001C" stroke="#3a0008" stroke-width="0.65"/>
<circle cx="504.60" cy="530.40" r="1.8" fill="#C4001C" stroke="#3a0008" stroke-width="0.65"/>
<circle cx="502.70" cy="532.70" r="1.8" fill="#C4001C" stroke="#3a0008" stroke-width="0.65"/>
<circle cx="496.90" cy="535.60" r="1.8" fill="#C4001C" stroke="#3a0008" stroke-width="0.65"/>
<polyline points="435.40,538.00 435.40,508.30 454.00,508.30 454.00,512.70" fill="none" stroke="#1a1a1a" stroke-width="1.05"/>
<circle cx="443.20" cy="504.20" r="0.9" fill="#1e1e1e"/>
<circle cx="446.20" cy="504.20" r="0.9" fill="#1e1e1e"/>
<polyline points="483.10,527.50 483.10,500.60 501.20,500.60 501.20,504.40" fill="none" stroke="#1a1a1a" stroke-width="1.05"/>
<circle cx="489.15" cy="497.40" r="0.9" fill="#1e1e1e"/>
<circle cx="492.15" cy="497.40" r="0.9" fill="#1e1e1e"/>
<circle cx="495.15" cy="497.40" r="0.9" fill="#1e1e1e"/>
<rect x="0.5" y="0.5" width="519" height="604" fill="none" stroke="#000" stroke-width="1.2"/>
</svg>
</body></html>
